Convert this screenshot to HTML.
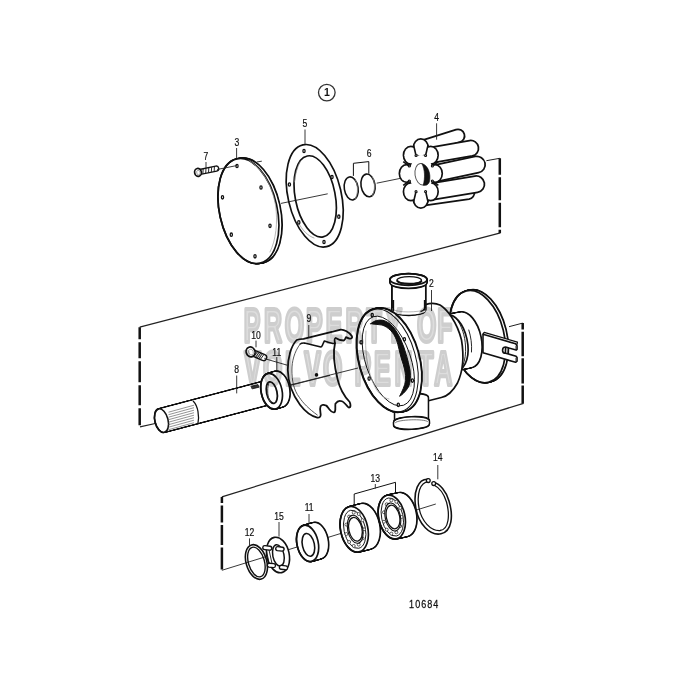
<!DOCTYPE html>
<html><head><meta charset="utf-8"><style>
html,body{margin:0;padding:0;background:#fff;}
svg{display:block;font-family:"Liberation Sans",sans-serif;}

</style></head><body>
<svg width="695" height="695" viewBox="0 0 695 695">
<rect width="695" height="695" fill="#fff"/>
<circle cx="326.8" cy="92.6" r="8.3" fill="none" stroke="#333" stroke-width="1.3"/>
<text x="326.8" y="96.4" font-size="10.5" font-weight="bold" text-anchor="middle" fill="#111">1</text>
<line x1="486.40" y1="160.70" x2="499.80" y2="158.30" stroke="#222" stroke-width="1.0" />
<line x1="499.8" y1="158.3" x2="499.8" y2="233" stroke="#111" stroke-width="2.5" stroke-dasharray="16.5 2.5 23 2.5 24.5 2.5 4"/>
<line x1="500.50" y1="232.90" x2="139.70" y2="327.20" stroke="#222" stroke-width="1.25" />
<text transform="translate(206.00,159.60) scale(0.86,1)" font-size="10" text-anchor="middle" fill="#111" stroke="#111" stroke-width="0.2">7</text>
<line x1="206.00" y1="162.00" x2="206.00" y2="169.50" stroke="#222" stroke-width="0.9" />
<line x1="256.60" y1="162.00" x2="261.80" y2="161.20" stroke="#222" stroke-width="0.9" />
<path d="M200.51,174.43 L216.71,171.05 A2.5,2.5 0 0 0 215.69,166.15 L199.49,169.54 Z" fill="#fff" stroke="#111" stroke-width="1.3650000000000002" stroke-linejoin="round" stroke-linecap="round" />
<line x1="202.90" y1="173.67" x2="203.16" y2="169.02" stroke="#111" stroke-width="0.9" />
<line x1="205.72" y1="173.09" x2="205.98" y2="168.44" stroke="#111" stroke-width="0.9" />
<line x1="208.54" y1="172.50" x2="208.79" y2="167.85" stroke="#111" stroke-width="0.9" />
<line x1="211.36" y1="171.91" x2="211.61" y2="167.26" stroke="#111" stroke-width="0.9" />
<line x1="214.17" y1="171.32" x2="214.43" y2="166.67" stroke="#111" stroke-width="0.9" />
<ellipse cx="198.00" cy="172.40" rx="3.40" ry="4.00" transform="rotate(-12 198.00 172.40)" fill="#fff" stroke="#111" stroke-width="1.6800000000000002" />
<ellipse cx="198.40" cy="172.60" rx="1.70" ry="2.40" transform="rotate(-12 198.40 172.60)" fill="none" stroke="#777" stroke-width="0.6" />
<text transform="translate(236.80,146.30) scale(0.86,1)" font-size="10" text-anchor="middle" fill="#111" stroke="#111" stroke-width="0.2">3</text>
<line x1="236.60" y1="148.00" x2="236.60" y2="158.50" stroke="#222" stroke-width="0.9" />
<g fill="#fff" stroke="#111" stroke-width="3.3600000000000003"><ellipse cx="251.60" cy="210.70" rx="28.00" ry="52.60" transform="rotate(-12.6 251.60 210.70)"/><ellipse cx="251.07" cy="210.75" rx="28.00" ry="52.60" transform="rotate(-12.6 251.07 210.75)"/><ellipse cx="250.53" cy="210.80" rx="28.00" ry="52.60" transform="rotate(-12.6 250.53 210.80)"/><ellipse cx="250.00" cy="210.85" rx="28.00" ry="52.60" transform="rotate(-12.6 250.00 210.85)"/><ellipse cx="249.47" cy="210.90" rx="28.00" ry="52.60" transform="rotate(-12.6 249.47 210.90)"/><ellipse cx="248.93" cy="210.95" rx="28.00" ry="52.60" transform="rotate(-12.6 248.93 210.95)"/><ellipse cx="248.40" cy="211.00" rx="28.00" ry="52.60" transform="rotate(-12.6 248.40 211.00)"/></g>
<g fill="#fff" stroke="none"><ellipse cx="251.60" cy="210.70" rx="28.00" ry="52.60" transform="rotate(-12.6 251.60 210.70)"/><ellipse cx="251.07" cy="210.75" rx="28.00" ry="52.60" transform="rotate(-12.6 251.07 210.75)"/><ellipse cx="250.53" cy="210.80" rx="28.00" ry="52.60" transform="rotate(-12.6 250.53 210.80)"/><ellipse cx="250.00" cy="210.85" rx="28.00" ry="52.60" transform="rotate(-12.6 250.00 210.85)"/><ellipse cx="249.47" cy="210.90" rx="28.00" ry="52.60" transform="rotate(-12.6 249.47 210.90)"/><ellipse cx="248.93" cy="210.95" rx="28.00" ry="52.60" transform="rotate(-12.6 248.93 210.95)"/><ellipse cx="248.40" cy="211.00" rx="28.00" ry="52.60" transform="rotate(-12.6 248.40 211.00)"/></g>
<ellipse cx="248.40" cy="211.00" rx="28.84" ry="53.44" transform="rotate(-12.6 248.40 211.00)" fill="none" stroke="#111" stroke-width="1.6800000000000002" />
<path d="M249,160.5 C262,168 272,185 275.5,205 C278,222 276,240 270,252" fill="none" stroke="#999" stroke-width="0.7" stroke-linejoin="round" stroke-linecap="round" />
<ellipse cx="237.00" cy="166.00" rx="1.1" ry="1.7" fill="#fff" stroke="#111" stroke-width="1.3"/>
<ellipse cx="261.00" cy="187.50" rx="1.1" ry="1.7" fill="#fff" stroke="#111" stroke-width="1.3"/>
<ellipse cx="222.50" cy="197.30" rx="1.1" ry="1.7" fill="#fff" stroke="#111" stroke-width="1.3"/>
<ellipse cx="270.00" cy="225.80" rx="1.1" ry="1.7" fill="#fff" stroke="#111" stroke-width="1.3"/>
<ellipse cx="231.30" cy="234.70" rx="1.1" ry="1.7" fill="#fff" stroke="#111" stroke-width="1.3"/>
<ellipse cx="255.00" cy="256.30" rx="1.1" ry="1.7" fill="#fff" stroke="#111" stroke-width="1.3"/>
<line x1="281.00" y1="203.40" x2="327.70" y2="193.80" stroke="#222" stroke-width="0.9" />
<line x1="217.00" y1="169.50" x2="237.00" y2="165.50" stroke="#222" stroke-width="0.9" />
<text transform="translate(305.00,127.30) scale(0.86,1)" font-size="10" text-anchor="middle" fill="#111" stroke="#111" stroke-width="0.2">5</text>
<line x1="305.00" y1="129.50" x2="305.00" y2="144.50" stroke="#222" stroke-width="0.9" />
<ellipse cx="314.70" cy="195.80" rx="26.60" ry="52.25" transform="rotate(-13.1 314.70 195.80)" fill="none" stroke="#111" stroke-width="1.6800000000000002" />
<ellipse cx="315.20" cy="196.40" rx="20.00" ry="41.20" transform="rotate(-11.1 315.20 196.40)" fill="none" stroke="#111" stroke-width="1.6800000000000002" />
<path d="M300,162 C297,168 295,175 294.5,182" fill="none" stroke="#888" stroke-width="0.7" stroke-linejoin="round" stroke-linecap="round" />
<path d="M298,222 C302,230 308,236 314,238" fill="none" stroke="#888" stroke-width="0.7" stroke-linejoin="round" stroke-linecap="round" />
<ellipse cx="304.00" cy="151.00" rx="1.1" ry="1.7" fill="#fff" stroke="#111" stroke-width="1.3"/>
<ellipse cx="332.00" cy="177.00" rx="1.1" ry="1.7" fill="#fff" stroke="#111" stroke-width="1.3"/>
<ellipse cx="289.40" cy="184.50" rx="1.1" ry="1.7" fill="#fff" stroke="#111" stroke-width="1.3"/>
<ellipse cx="338.80" cy="216.70" rx="1.1" ry="1.7" fill="#fff" stroke="#111" stroke-width="1.3"/>
<ellipse cx="298.80" cy="222.40" rx="1.1" ry="1.7" fill="#fff" stroke="#111" stroke-width="1.3"/>
<ellipse cx="324.00" cy="242.00" rx="1.1" ry="1.7" fill="#fff" stroke="#111" stroke-width="1.3"/>
<text transform="translate(369.20,157.10) scale(0.86,1)" font-size="10" text-anchor="middle" fill="#111" stroke="#111" stroke-width="0.2">6</text>
<path d="M353.4,175.5 L353.4,163.3 L368.8,161.6 L368.8,173.4" fill="none" stroke="#111" stroke-width="1.0" stroke-linejoin="round" stroke-linecap="round" />
<ellipse cx="351.20" cy="188.40" rx="6.90" ry="11.60" transform="rotate(-9 351.20 188.40)" fill="#fff" stroke="#111" stroke-width="1.5750000000000002" />
<path d="M355.5,180 C358,185 358.3,193 355.5,198.5" fill="none" stroke="#888" stroke-width="0.8" stroke-linejoin="round" stroke-linecap="round" />
<ellipse cx="368.00" cy="185.40" rx="7.00" ry="11.40" transform="rotate(-9 368.00 185.40)" fill="#fff" stroke="#111" stroke-width="1.5750000000000002" />
<path d="M372.5,177 C375,182 375.3,190 372.5,195.5" fill="none" stroke="#888" stroke-width="0.8" stroke-linejoin="round" stroke-linecap="round" />
<line x1="376.70" y1="183.20" x2="421.30" y2="174.10" stroke="#222" stroke-width="0.9" />
<text transform="translate(436.60,120.90) scale(0.86,1)" font-size="10" text-anchor="middle" fill="#111" stroke="#111" stroke-width="0.2">4</text>
<path d="M422.80,153.99 L460.00,142.19 A6.6,6.6 0 0 0 456.00,129.61 L418.80,141.41 A6.6,6.6 0 0 0 422.80,153.99 Z" fill="#fff" stroke="#111" stroke-width="1.785" stroke-linejoin="round" stroke-linecap="round" />
<path d="M421.74,205.83 L469.04,199.03 A6.6,6.6 0 0 0 467.16,185.97 L419.86,192.77 A6.6,6.6 0 0 0 421.74,205.83 Z" fill="#fff" stroke="#111" stroke-width="1.785" stroke-linejoin="round" stroke-linecap="round" />
<path d="M432.05,162.94 L472.25,155.88 A7.8,7.8 0 0 0 469.55,140.52 L429.35,147.57 A7.8,7.8 0 0 0 432.05,162.94 Z" fill="#fff" stroke="#111" stroke-width="1.785" stroke-linejoin="round" stroke-linecap="round" />
<path d="M432.06,199.93 L477.56,192.39 A8.3,8.3 0 0 0 474.84,176.01 L429.34,183.56 A8.3,8.3 0 0 0 432.06,199.93 Z" fill="#fff" stroke="#111" stroke-width="1.785" stroke-linejoin="round" stroke-linecap="round" />
<path d="M436.52,181.62 L478.62,172.72 A8.3,8.3 0 0 0 475.18,156.48 L433.08,165.38 A8.3,8.3 0 0 0 436.52,181.62 Z" fill="#fff" stroke="#111" stroke-width="1.785" stroke-linejoin="round" stroke-linecap="round" />
<g fill="#fff" stroke="#111" stroke-width="3.4"><ellipse cx="420.80" cy="147.70" rx="6.6" ry="8.0"/><ellipse cx="430.70" cy="155.26" rx="6.6" ry="8.0"/><ellipse cx="434.80" cy="173.50" rx="6.6" ry="8.0"/><ellipse cx="430.70" cy="191.74" rx="6.6" ry="8.0"/><ellipse cx="420.80" cy="199.30" rx="6.6" ry="8.0"/><ellipse cx="410.90" cy="191.74" rx="6.6" ry="8.0"/><ellipse cx="406.80" cy="173.50" rx="6.6" ry="8.0"/><ellipse cx="410.90" cy="155.26" rx="6.6" ry="8.0"/><ellipse cx="421.30" cy="174.00" rx="11.5" ry="19"/></g>
<g fill="#fff" stroke="none"><ellipse cx="420.80" cy="147.70" rx="6.6" ry="8.0"/><ellipse cx="430.70" cy="155.26" rx="6.6" ry="8.0"/><ellipse cx="434.80" cy="173.50" rx="6.6" ry="8.0"/><ellipse cx="430.70" cy="191.74" rx="6.6" ry="8.0"/><ellipse cx="420.80" cy="199.30" rx="6.6" ry="8.0"/><ellipse cx="410.90" cy="191.74" rx="6.6" ry="8.0"/><ellipse cx="406.80" cy="173.50" rx="6.6" ry="8.0"/><ellipse cx="410.90" cy="155.26" rx="6.6" ry="8.0"/><ellipse cx="421.30" cy="174.00" rx="11.5" ry="19"/></g>
<line x1="428.07" y1="144.86" x2="425.58" y2="155.48" stroke="#111" stroke-width="1.6" />
<circle cx="425.58" cy="155.48" r="1.0" fill="#fff" stroke="#111" stroke-width="1.1"/>
<line x1="438.35" y1="161.64" x2="432.35" y2="166.04" stroke="#111" stroke-width="1.6" />
<circle cx="432.35" cy="166.04" r="1.0" fill="#fff" stroke="#111" stroke-width="1.1"/>
<line x1="438.35" y1="185.36" x2="432.35" y2="180.96" stroke="#111" stroke-width="1.6" />
<circle cx="432.35" cy="180.96" r="1.0" fill="#fff" stroke="#111" stroke-width="1.1"/>
<line x1="428.07" y1="202.14" x2="425.58" y2="191.52" stroke="#111" stroke-width="1.6" />
<circle cx="425.58" cy="191.52" r="1.0" fill="#fff" stroke="#111" stroke-width="1.1"/>
<line x1="413.53" y1="202.14" x2="416.02" y2="191.52" stroke="#111" stroke-width="1.6" />
<circle cx="416.02" cy="191.52" r="1.0" fill="#fff" stroke="#111" stroke-width="1.1"/>
<line x1="403.25" y1="185.36" x2="409.25" y2="180.96" stroke="#111" stroke-width="1.6" />
<circle cx="409.25" cy="180.96" r="1.0" fill="#fff" stroke="#111" stroke-width="1.1"/>
<line x1="403.25" y1="161.64" x2="409.25" y2="166.04" stroke="#111" stroke-width="1.6" />
<circle cx="409.25" cy="166.04" r="1.0" fill="#fff" stroke="#111" stroke-width="1.1"/>
<line x1="413.53" y1="144.86" x2="416.02" y2="155.48" stroke="#111" stroke-width="1.6" />
<circle cx="416.02" cy="155.48" r="1.0" fill="#fff" stroke="#111" stroke-width="1.1"/>
<ellipse cx="421.80" cy="174.30" rx="6.80" ry="10.80" transform="rotate(-8 421.80 174.30)" fill="#fff" stroke="#555" stroke-width="1.0" />
<path d="M422,163.8 C428.5,165.5 431,174 429.5,181.5 C428.5,184.8 426,185.8 423.2,185.2 C425.2,178 425,170 422,163.8 Z" fill="#111" stroke="#111" stroke-width="0.6" stroke-linejoin="round" stroke-linecap="round" />
<line x1="436.60" y1="123.30" x2="436.60" y2="139.70" stroke="#222" stroke-width="0.9" />
<line x1="139.7" y1="327.2" x2="139.7" y2="427" stroke="#111" stroke-width="2.5" stroke-dasharray="12 3 16 3 21 3 20 3 17"/>
<line x1="140.00" y1="426.90" x2="156.30" y2="423.30" stroke="#222" stroke-width="1.1" />
<line x1="509.00" y1="326.70" x2="522.70" y2="323.10" stroke="#222" stroke-width="1.0" />
<line x1="522.7" y1="323.1" x2="522.7" y2="403.5" stroke="#111" stroke-width="2.5" stroke-dasharray="6.5 2.1 24.5 2.1 25.2 2.1 20"/>
<line x1="523.50" y1="403.30" x2="221.90" y2="496.90" stroke="#222" stroke-width="1.25" />
<text transform="translate(236.70,372.60) scale(0.86,1)" font-size="10" text-anchor="middle" fill="#111" stroke="#111" stroke-width="0.2">8</text>
<g fill="#fff" stroke="#111" stroke-width="3.1500000000000004"><ellipse cx="268.00" cy="392.50" rx="5.80" ry="11.30" transform="rotate(-14 268.00 392.50)"/><ellipse cx="267.32" cy="392.68" rx="5.80" ry="11.30" transform="rotate(-14 267.32 392.68)"/><ellipse cx="266.64" cy="392.86" rx="5.80" ry="11.30" transform="rotate(-14 266.64 392.86)"/><ellipse cx="265.96" cy="393.04" rx="5.80" ry="11.30" transform="rotate(-14 265.96 393.04)"/><ellipse cx="265.29" cy="393.22" rx="5.80" ry="11.30" transform="rotate(-14 265.29 393.22)"/><ellipse cx="264.61" cy="393.39" rx="5.80" ry="11.30" transform="rotate(-14 264.61 393.39)"/><ellipse cx="263.93" cy="393.57" rx="5.80" ry="11.30" transform="rotate(-14 263.93 393.57)"/><ellipse cx="263.25" cy="393.75" rx="5.80" ry="11.30" transform="rotate(-14 263.25 393.75)"/><ellipse cx="262.57" cy="393.93" rx="5.80" ry="11.30" transform="rotate(-14 262.57 393.93)"/><ellipse cx="261.89" cy="394.11" rx="5.80" ry="11.30" transform="rotate(-14 261.89 394.11)"/><ellipse cx="261.22" cy="394.29" rx="5.80" ry="11.30" transform="rotate(-14 261.22 394.29)"/><ellipse cx="260.54" cy="394.47" rx="5.80" ry="11.30" transform="rotate(-14 260.54 394.47)"/><ellipse cx="259.86" cy="394.65" rx="5.80" ry="11.30" transform="rotate(-14 259.86 394.65)"/><ellipse cx="259.18" cy="394.83" rx="5.80" ry="11.30" transform="rotate(-14 259.18 394.83)"/><ellipse cx="258.50" cy="395.01" rx="5.80" ry="11.30" transform="rotate(-14 258.50 395.01)"/><ellipse cx="257.82" cy="395.18" rx="5.80" ry="11.30" transform="rotate(-14 257.82 395.18)"/><ellipse cx="257.15" cy="395.36" rx="5.80" ry="11.30" transform="rotate(-14 257.15 395.36)"/><ellipse cx="256.47" cy="395.54" rx="5.80" ry="11.30" transform="rotate(-14 256.47 395.54)"/><ellipse cx="255.79" cy="395.72" rx="5.80" ry="11.30" transform="rotate(-14 255.79 395.72)"/><ellipse cx="255.11" cy="395.90" rx="5.80" ry="11.30" transform="rotate(-14 255.11 395.90)"/><ellipse cx="254.43" cy="396.08" rx="5.80" ry="11.30" transform="rotate(-14 254.43 396.08)"/><ellipse cx="253.75" cy="396.26" rx="5.80" ry="11.30" transform="rotate(-14 253.75 396.26)"/><ellipse cx="253.08" cy="396.44" rx="5.80" ry="11.30" transform="rotate(-14 253.08 396.44)"/><ellipse cx="252.40" cy="396.62" rx="5.80" ry="11.30" transform="rotate(-14 252.40 396.62)"/><ellipse cx="251.72" cy="396.80" rx="5.80" ry="11.30" transform="rotate(-14 251.72 396.80)"/><ellipse cx="251.04" cy="396.97" rx="5.80" ry="11.30" transform="rotate(-14 251.04 396.97)"/><ellipse cx="250.36" cy="397.15" rx="5.80" ry="11.30" transform="rotate(-14 250.36 397.15)"/><ellipse cx="249.68" cy="397.33" rx="5.80" ry="11.30" transform="rotate(-14 249.68 397.33)"/><ellipse cx="249.01" cy="397.51" rx="5.80" ry="11.30" transform="rotate(-14 249.01 397.51)"/><ellipse cx="248.33" cy="397.69" rx="5.80" ry="11.30" transform="rotate(-14 248.33 397.69)"/><ellipse cx="247.65" cy="397.87" rx="5.80" ry="11.30" transform="rotate(-14 247.65 397.87)"/><ellipse cx="246.97" cy="398.05" rx="5.80" ry="11.30" transform="rotate(-14 246.97 398.05)"/><ellipse cx="246.29" cy="398.23" rx="5.80" ry="11.30" transform="rotate(-14 246.29 398.23)"/><ellipse cx="245.61" cy="398.41" rx="5.80" ry="11.30" transform="rotate(-14 245.61 398.41)"/><ellipse cx="244.94" cy="398.59" rx="5.80" ry="11.30" transform="rotate(-14 244.94 398.59)"/><ellipse cx="244.26" cy="398.76" rx="5.80" ry="11.30" transform="rotate(-14 244.26 398.76)"/><ellipse cx="243.58" cy="398.94" rx="5.80" ry="11.30" transform="rotate(-14 243.58 398.94)"/><ellipse cx="242.90" cy="399.12" rx="5.80" ry="11.30" transform="rotate(-14 242.90 399.12)"/><ellipse cx="242.22" cy="399.30" rx="5.80" ry="11.30" transform="rotate(-14 242.22 399.30)"/><ellipse cx="241.54" cy="399.48" rx="5.80" ry="11.30" transform="rotate(-14 241.54 399.48)"/><ellipse cx="240.87" cy="399.66" rx="5.80" ry="11.30" transform="rotate(-14 240.87 399.66)"/><ellipse cx="240.19" cy="399.84" rx="5.80" ry="11.30" transform="rotate(-14 240.19 399.84)"/><ellipse cx="239.51" cy="400.02" rx="5.80" ry="11.30" transform="rotate(-14 239.51 400.02)"/><ellipse cx="238.83" cy="400.20" rx="5.80" ry="11.30" transform="rotate(-14 238.83 400.20)"/><ellipse cx="238.15" cy="400.38" rx="5.80" ry="11.30" transform="rotate(-14 238.15 400.38)"/><ellipse cx="237.47" cy="400.55" rx="5.80" ry="11.30" transform="rotate(-14 237.47 400.55)"/><ellipse cx="236.80" cy="400.73" rx="5.80" ry="11.30" transform="rotate(-14 236.80 400.73)"/><ellipse cx="236.12" cy="400.91" rx="5.80" ry="11.30" transform="rotate(-14 236.12 400.91)"/><ellipse cx="235.44" cy="401.09" rx="5.80" ry="11.30" transform="rotate(-14 235.44 401.09)"/><ellipse cx="234.76" cy="401.27" rx="5.80" ry="11.30" transform="rotate(-14 234.76 401.27)"/><ellipse cx="234.08" cy="401.45" rx="5.80" ry="11.30" transform="rotate(-14 234.08 401.45)"/><ellipse cx="233.40" cy="401.63" rx="5.80" ry="11.30" transform="rotate(-14 233.40 401.63)"/><ellipse cx="232.73" cy="401.81" rx="5.80" ry="11.30" transform="rotate(-14 232.73 401.81)"/><ellipse cx="232.05" cy="401.99" rx="5.80" ry="11.30" transform="rotate(-14 232.05 401.99)"/><ellipse cx="231.37" cy="402.16" rx="5.80" ry="11.30" transform="rotate(-14 231.37 402.16)"/><ellipse cx="230.69" cy="402.34" rx="5.80" ry="11.30" transform="rotate(-14 230.69 402.34)"/><ellipse cx="230.01" cy="402.52" rx="5.80" ry="11.30" transform="rotate(-14 230.01 402.52)"/><ellipse cx="229.33" cy="402.70" rx="5.80" ry="11.30" transform="rotate(-14 229.33 402.70)"/><ellipse cx="228.66" cy="402.88" rx="5.80" ry="11.30" transform="rotate(-14 228.66 402.88)"/><ellipse cx="227.98" cy="403.06" rx="5.80" ry="11.30" transform="rotate(-14 227.98 403.06)"/><ellipse cx="227.30" cy="403.24" rx="5.80" ry="11.30" transform="rotate(-14 227.30 403.24)"/><ellipse cx="226.62" cy="403.42" rx="5.80" ry="11.30" transform="rotate(-14 226.62 403.42)"/><ellipse cx="225.94" cy="403.60" rx="5.80" ry="11.30" transform="rotate(-14 225.94 403.60)"/><ellipse cx="225.26" cy="403.78" rx="5.80" ry="11.30" transform="rotate(-14 225.26 403.78)"/><ellipse cx="224.59" cy="403.95" rx="5.80" ry="11.30" transform="rotate(-14 224.59 403.95)"/><ellipse cx="223.91" cy="404.13" rx="5.80" ry="11.30" transform="rotate(-14 223.91 404.13)"/><ellipse cx="223.23" cy="404.31" rx="5.80" ry="11.30" transform="rotate(-14 223.23 404.31)"/><ellipse cx="222.55" cy="404.49" rx="5.80" ry="11.30" transform="rotate(-14 222.55 404.49)"/><ellipse cx="221.87" cy="404.67" rx="5.80" ry="11.30" transform="rotate(-14 221.87 404.67)"/><ellipse cx="221.19" cy="404.85" rx="5.80" ry="11.30" transform="rotate(-14 221.19 404.85)"/><ellipse cx="220.52" cy="405.03" rx="5.80" ry="11.30" transform="rotate(-14 220.52 405.03)"/><ellipse cx="219.84" cy="405.21" rx="5.80" ry="11.30" transform="rotate(-14 219.84 405.21)"/><ellipse cx="219.16" cy="405.39" rx="5.80" ry="11.30" transform="rotate(-14 219.16 405.39)"/><ellipse cx="218.48" cy="405.57" rx="5.80" ry="11.30" transform="rotate(-14 218.48 405.57)"/><ellipse cx="217.80" cy="405.74" rx="5.80" ry="11.30" transform="rotate(-14 217.80 405.74)"/><ellipse cx="217.12" cy="405.92" rx="5.80" ry="11.30" transform="rotate(-14 217.12 405.92)"/><ellipse cx="216.45" cy="406.10" rx="5.80" ry="11.30" transform="rotate(-14 216.45 406.10)"/><ellipse cx="215.77" cy="406.28" rx="5.80" ry="11.30" transform="rotate(-14 215.77 406.28)"/><ellipse cx="215.09" cy="406.46" rx="5.80" ry="11.30" transform="rotate(-14 215.09 406.46)"/><ellipse cx="214.41" cy="406.64" rx="5.80" ry="11.30" transform="rotate(-14 214.41 406.64)"/><ellipse cx="213.73" cy="406.82" rx="5.80" ry="11.30" transform="rotate(-14 213.73 406.82)"/><ellipse cx="213.05" cy="407.00" rx="5.80" ry="11.30" transform="rotate(-14 213.05 407.00)"/><ellipse cx="212.38" cy="407.18" rx="5.80" ry="11.30" transform="rotate(-14 212.38 407.18)"/><ellipse cx="211.70" cy="407.36" rx="5.80" ry="11.30" transform="rotate(-14 211.70 407.36)"/><ellipse cx="211.02" cy="407.53" rx="5.80" ry="11.30" transform="rotate(-14 211.02 407.53)"/><ellipse cx="210.34" cy="407.71" rx="5.80" ry="11.30" transform="rotate(-14 210.34 407.71)"/><ellipse cx="209.66" cy="407.89" rx="5.80" ry="11.30" transform="rotate(-14 209.66 407.89)"/><ellipse cx="208.98" cy="408.07" rx="5.80" ry="11.30" transform="rotate(-14 208.98 408.07)"/><ellipse cx="208.31" cy="408.25" rx="5.80" ry="11.30" transform="rotate(-14 208.31 408.25)"/><ellipse cx="207.63" cy="408.43" rx="5.80" ry="11.30" transform="rotate(-14 207.63 408.43)"/><ellipse cx="206.95" cy="408.61" rx="5.80" ry="11.30" transform="rotate(-14 206.95 408.61)"/><ellipse cx="206.27" cy="408.79" rx="5.80" ry="11.30" transform="rotate(-14 206.27 408.79)"/><ellipse cx="205.59" cy="408.97" rx="5.80" ry="11.30" transform="rotate(-14 205.59 408.97)"/><ellipse cx="204.91" cy="409.15" rx="5.80" ry="11.30" transform="rotate(-14 204.91 409.15)"/><ellipse cx="204.24" cy="409.32" rx="5.80" ry="11.30" transform="rotate(-14 204.24 409.32)"/><ellipse cx="203.56" cy="409.50" rx="5.80" ry="11.30" transform="rotate(-14 203.56 409.50)"/><ellipse cx="202.88" cy="409.68" rx="5.80" ry="11.30" transform="rotate(-14 202.88 409.68)"/><ellipse cx="202.20" cy="409.86" rx="5.80" ry="11.30" transform="rotate(-14 202.20 409.86)"/><ellipse cx="201.52" cy="410.04" rx="5.80" ry="11.30" transform="rotate(-14 201.52 410.04)"/><ellipse cx="200.84" cy="410.22" rx="5.80" ry="11.30" transform="rotate(-14 200.84 410.22)"/><ellipse cx="200.17" cy="410.40" rx="5.80" ry="11.30" transform="rotate(-14 200.17 410.40)"/><ellipse cx="199.49" cy="410.58" rx="5.80" ry="11.30" transform="rotate(-14 199.49 410.58)"/><ellipse cx="198.81" cy="410.76" rx="5.80" ry="11.30" transform="rotate(-14 198.81 410.76)"/><ellipse cx="198.13" cy="410.94" rx="5.80" ry="11.30" transform="rotate(-14 198.13 410.94)"/><ellipse cx="197.45" cy="411.11" rx="5.80" ry="11.30" transform="rotate(-14 197.45 411.11)"/><ellipse cx="196.77" cy="411.29" rx="5.80" ry="11.30" transform="rotate(-14 196.77 411.29)"/><ellipse cx="196.10" cy="411.47" rx="5.80" ry="11.30" transform="rotate(-14 196.10 411.47)"/><ellipse cx="195.42" cy="411.65" rx="5.80" ry="11.30" transform="rotate(-14 195.42 411.65)"/><ellipse cx="194.74" cy="411.83" rx="5.80" ry="11.30" transform="rotate(-14 194.74 411.83)"/><ellipse cx="194.06" cy="412.01" rx="5.80" ry="11.30" transform="rotate(-14 194.06 412.01)"/><ellipse cx="193.38" cy="412.19" rx="5.80" ry="11.30" transform="rotate(-14 193.38 412.19)"/><ellipse cx="192.70" cy="412.37" rx="5.80" ry="11.30" transform="rotate(-14 192.70 412.37)"/><ellipse cx="192.03" cy="412.55" rx="5.80" ry="11.30" transform="rotate(-14 192.03 412.55)"/><ellipse cx="191.35" cy="412.72" rx="5.80" ry="11.30" transform="rotate(-14 191.35 412.72)"/><ellipse cx="190.67" cy="412.90" rx="5.80" ry="11.30" transform="rotate(-14 190.67 412.90)"/><ellipse cx="189.99" cy="413.08" rx="5.80" ry="11.30" transform="rotate(-14 189.99 413.08)"/><ellipse cx="189.31" cy="413.26" rx="5.80" ry="11.30" transform="rotate(-14 189.31 413.26)"/><ellipse cx="188.63" cy="413.44" rx="5.80" ry="11.30" transform="rotate(-14 188.63 413.44)"/><ellipse cx="187.96" cy="413.62" rx="5.80" ry="11.30" transform="rotate(-14 187.96 413.62)"/><ellipse cx="187.28" cy="413.80" rx="5.80" ry="11.30" transform="rotate(-14 187.28 413.80)"/><ellipse cx="186.60" cy="413.98" rx="5.80" ry="11.30" transform="rotate(-14 186.60 413.98)"/><ellipse cx="185.92" cy="414.16" rx="5.80" ry="11.30" transform="rotate(-14 185.92 414.16)"/><ellipse cx="185.24" cy="414.34" rx="5.80" ry="11.30" transform="rotate(-14 185.24 414.34)"/><ellipse cx="184.56" cy="414.51" rx="5.80" ry="11.30" transform="rotate(-14 184.56 414.51)"/><ellipse cx="183.89" cy="414.69" rx="5.80" ry="11.30" transform="rotate(-14 183.89 414.69)"/><ellipse cx="183.21" cy="414.87" rx="5.80" ry="11.30" transform="rotate(-14 183.21 414.87)"/><ellipse cx="182.53" cy="415.05" rx="5.80" ry="11.30" transform="rotate(-14 182.53 415.05)"/><ellipse cx="181.85" cy="415.23" rx="5.80" ry="11.30" transform="rotate(-14 181.85 415.23)"/><ellipse cx="181.17" cy="415.41" rx="5.80" ry="11.30" transform="rotate(-14 181.17 415.41)"/><ellipse cx="180.49" cy="415.59" rx="5.80" ry="11.30" transform="rotate(-14 180.49 415.59)"/><ellipse cx="179.82" cy="415.77" rx="5.80" ry="11.30" transform="rotate(-14 179.82 415.77)"/><ellipse cx="179.14" cy="415.95" rx="5.80" ry="11.30" transform="rotate(-14 179.14 415.95)"/><ellipse cx="178.46" cy="416.13" rx="5.80" ry="11.30" transform="rotate(-14 178.46 416.13)"/><ellipse cx="177.78" cy="416.30" rx="5.80" ry="11.30" transform="rotate(-14 177.78 416.30)"/><ellipse cx="177.10" cy="416.48" rx="5.80" ry="11.30" transform="rotate(-14 177.10 416.48)"/><ellipse cx="176.42" cy="416.66" rx="5.80" ry="11.30" transform="rotate(-14 176.42 416.66)"/><ellipse cx="175.75" cy="416.84" rx="5.80" ry="11.30" transform="rotate(-14 175.75 416.84)"/><ellipse cx="175.07" cy="417.02" rx="5.80" ry="11.30" transform="rotate(-14 175.07 417.02)"/><ellipse cx="174.39" cy="417.20" rx="5.80" ry="11.30" transform="rotate(-14 174.39 417.20)"/><ellipse cx="173.71" cy="417.38" rx="5.80" ry="11.30" transform="rotate(-14 173.71 417.38)"/><ellipse cx="173.03" cy="417.56" rx="5.80" ry="11.30" transform="rotate(-14 173.03 417.56)"/><ellipse cx="172.35" cy="417.74" rx="5.80" ry="11.30" transform="rotate(-14 172.35 417.74)"/><ellipse cx="171.68" cy="417.92" rx="5.80" ry="11.30" transform="rotate(-14 171.68 417.92)"/><ellipse cx="171.00" cy="418.09" rx="5.80" ry="11.30" transform="rotate(-14 171.00 418.09)"/><ellipse cx="170.32" cy="418.27" rx="5.80" ry="11.30" transform="rotate(-14 170.32 418.27)"/><ellipse cx="169.64" cy="418.45" rx="5.80" ry="11.30" transform="rotate(-14 169.64 418.45)"/><ellipse cx="168.96" cy="418.63" rx="5.80" ry="11.30" transform="rotate(-14 168.96 418.63)"/><ellipse cx="168.28" cy="418.81" rx="5.80" ry="11.30" transform="rotate(-14 168.28 418.81)"/><ellipse cx="167.61" cy="418.99" rx="5.80" ry="11.30" transform="rotate(-14 167.61 418.99)"/><ellipse cx="166.93" cy="419.17" rx="5.80" ry="11.30" transform="rotate(-14 166.93 419.17)"/><ellipse cx="166.25" cy="419.35" rx="5.80" ry="11.30" transform="rotate(-14 166.25 419.35)"/><ellipse cx="165.57" cy="419.53" rx="5.80" ry="11.30" transform="rotate(-14 165.57 419.53)"/><ellipse cx="164.89" cy="419.71" rx="5.80" ry="11.30" transform="rotate(-14 164.89 419.71)"/><ellipse cx="164.21" cy="419.88" rx="5.80" ry="11.30" transform="rotate(-14 164.21 419.88)"/><ellipse cx="163.54" cy="420.06" rx="5.80" ry="11.30" transform="rotate(-14 163.54 420.06)"/><ellipse cx="162.86" cy="420.24" rx="5.80" ry="11.30" transform="rotate(-14 162.86 420.24)"/><ellipse cx="162.18" cy="420.42" rx="5.80" ry="11.30" transform="rotate(-14 162.18 420.42)"/><ellipse cx="161.50" cy="420.60" rx="5.80" ry="11.30" transform="rotate(-14 161.50 420.60)"/></g>
<g fill="#fff" stroke="none"><ellipse cx="268.00" cy="392.50" rx="5.80" ry="11.30" transform="rotate(-14 268.00 392.50)"/><ellipse cx="267.32" cy="392.68" rx="5.80" ry="11.30" transform="rotate(-14 267.32 392.68)"/><ellipse cx="266.64" cy="392.86" rx="5.80" ry="11.30" transform="rotate(-14 266.64 392.86)"/><ellipse cx="265.96" cy="393.04" rx="5.80" ry="11.30" transform="rotate(-14 265.96 393.04)"/><ellipse cx="265.29" cy="393.22" rx="5.80" ry="11.30" transform="rotate(-14 265.29 393.22)"/><ellipse cx="264.61" cy="393.39" rx="5.80" ry="11.30" transform="rotate(-14 264.61 393.39)"/><ellipse cx="263.93" cy="393.57" rx="5.80" ry="11.30" transform="rotate(-14 263.93 393.57)"/><ellipse cx="263.25" cy="393.75" rx="5.80" ry="11.30" transform="rotate(-14 263.25 393.75)"/><ellipse cx="262.57" cy="393.93" rx="5.80" ry="11.30" transform="rotate(-14 262.57 393.93)"/><ellipse cx="261.89" cy="394.11" rx="5.80" ry="11.30" transform="rotate(-14 261.89 394.11)"/><ellipse cx="261.22" cy="394.29" rx="5.80" ry="11.30" transform="rotate(-14 261.22 394.29)"/><ellipse cx="260.54" cy="394.47" rx="5.80" ry="11.30" transform="rotate(-14 260.54 394.47)"/><ellipse cx="259.86" cy="394.65" rx="5.80" ry="11.30" transform="rotate(-14 259.86 394.65)"/><ellipse cx="259.18" cy="394.83" rx="5.80" ry="11.30" transform="rotate(-14 259.18 394.83)"/><ellipse cx="258.50" cy="395.01" rx="5.80" ry="11.30" transform="rotate(-14 258.50 395.01)"/><ellipse cx="257.82" cy="395.18" rx="5.80" ry="11.30" transform="rotate(-14 257.82 395.18)"/><ellipse cx="257.15" cy="395.36" rx="5.80" ry="11.30" transform="rotate(-14 257.15 395.36)"/><ellipse cx="256.47" cy="395.54" rx="5.80" ry="11.30" transform="rotate(-14 256.47 395.54)"/><ellipse cx="255.79" cy="395.72" rx="5.80" ry="11.30" transform="rotate(-14 255.79 395.72)"/><ellipse cx="255.11" cy="395.90" rx="5.80" ry="11.30" transform="rotate(-14 255.11 395.90)"/><ellipse cx="254.43" cy="396.08" rx="5.80" ry="11.30" transform="rotate(-14 254.43 396.08)"/><ellipse cx="253.75" cy="396.26" rx="5.80" ry="11.30" transform="rotate(-14 253.75 396.26)"/><ellipse cx="253.08" cy="396.44" rx="5.80" ry="11.30" transform="rotate(-14 253.08 396.44)"/><ellipse cx="252.40" cy="396.62" rx="5.80" ry="11.30" transform="rotate(-14 252.40 396.62)"/><ellipse cx="251.72" cy="396.80" rx="5.80" ry="11.30" transform="rotate(-14 251.72 396.80)"/><ellipse cx="251.04" cy="396.97" rx="5.80" ry="11.30" transform="rotate(-14 251.04 396.97)"/><ellipse cx="250.36" cy="397.15" rx="5.80" ry="11.30" transform="rotate(-14 250.36 397.15)"/><ellipse cx="249.68" cy="397.33" rx="5.80" ry="11.30" transform="rotate(-14 249.68 397.33)"/><ellipse cx="249.01" cy="397.51" rx="5.80" ry="11.30" transform="rotate(-14 249.01 397.51)"/><ellipse cx="248.33" cy="397.69" rx="5.80" ry="11.30" transform="rotate(-14 248.33 397.69)"/><ellipse cx="247.65" cy="397.87" rx="5.80" ry="11.30" transform="rotate(-14 247.65 397.87)"/><ellipse cx="246.97" cy="398.05" rx="5.80" ry="11.30" transform="rotate(-14 246.97 398.05)"/><ellipse cx="246.29" cy="398.23" rx="5.80" ry="11.30" transform="rotate(-14 246.29 398.23)"/><ellipse cx="245.61" cy="398.41" rx="5.80" ry="11.30" transform="rotate(-14 245.61 398.41)"/><ellipse cx="244.94" cy="398.59" rx="5.80" ry="11.30" transform="rotate(-14 244.94 398.59)"/><ellipse cx="244.26" cy="398.76" rx="5.80" ry="11.30" transform="rotate(-14 244.26 398.76)"/><ellipse cx="243.58" cy="398.94" rx="5.80" ry="11.30" transform="rotate(-14 243.58 398.94)"/><ellipse cx="242.90" cy="399.12" rx="5.80" ry="11.30" transform="rotate(-14 242.90 399.12)"/><ellipse cx="242.22" cy="399.30" rx="5.80" ry="11.30" transform="rotate(-14 242.22 399.30)"/><ellipse cx="241.54" cy="399.48" rx="5.80" ry="11.30" transform="rotate(-14 241.54 399.48)"/><ellipse cx="240.87" cy="399.66" rx="5.80" ry="11.30" transform="rotate(-14 240.87 399.66)"/><ellipse cx="240.19" cy="399.84" rx="5.80" ry="11.30" transform="rotate(-14 240.19 399.84)"/><ellipse cx="239.51" cy="400.02" rx="5.80" ry="11.30" transform="rotate(-14 239.51 400.02)"/><ellipse cx="238.83" cy="400.20" rx="5.80" ry="11.30" transform="rotate(-14 238.83 400.20)"/><ellipse cx="238.15" cy="400.38" rx="5.80" ry="11.30" transform="rotate(-14 238.15 400.38)"/><ellipse cx="237.47" cy="400.55" rx="5.80" ry="11.30" transform="rotate(-14 237.47 400.55)"/><ellipse cx="236.80" cy="400.73" rx="5.80" ry="11.30" transform="rotate(-14 236.80 400.73)"/><ellipse cx="236.12" cy="400.91" rx="5.80" ry="11.30" transform="rotate(-14 236.12 400.91)"/><ellipse cx="235.44" cy="401.09" rx="5.80" ry="11.30" transform="rotate(-14 235.44 401.09)"/><ellipse cx="234.76" cy="401.27" rx="5.80" ry="11.30" transform="rotate(-14 234.76 401.27)"/><ellipse cx="234.08" cy="401.45" rx="5.80" ry="11.30" transform="rotate(-14 234.08 401.45)"/><ellipse cx="233.40" cy="401.63" rx="5.80" ry="11.30" transform="rotate(-14 233.40 401.63)"/><ellipse cx="232.73" cy="401.81" rx="5.80" ry="11.30" transform="rotate(-14 232.73 401.81)"/><ellipse cx="232.05" cy="401.99" rx="5.80" ry="11.30" transform="rotate(-14 232.05 401.99)"/><ellipse cx="231.37" cy="402.16" rx="5.80" ry="11.30" transform="rotate(-14 231.37 402.16)"/><ellipse cx="230.69" cy="402.34" rx="5.80" ry="11.30" transform="rotate(-14 230.69 402.34)"/><ellipse cx="230.01" cy="402.52" rx="5.80" ry="11.30" transform="rotate(-14 230.01 402.52)"/><ellipse cx="229.33" cy="402.70" rx="5.80" ry="11.30" transform="rotate(-14 229.33 402.70)"/><ellipse cx="228.66" cy="402.88" rx="5.80" ry="11.30" transform="rotate(-14 228.66 402.88)"/><ellipse cx="227.98" cy="403.06" rx="5.80" ry="11.30" transform="rotate(-14 227.98 403.06)"/><ellipse cx="227.30" cy="403.24" rx="5.80" ry="11.30" transform="rotate(-14 227.30 403.24)"/><ellipse cx="226.62" cy="403.42" rx="5.80" ry="11.30" transform="rotate(-14 226.62 403.42)"/><ellipse cx="225.94" cy="403.60" rx="5.80" ry="11.30" transform="rotate(-14 225.94 403.60)"/><ellipse cx="225.26" cy="403.78" rx="5.80" ry="11.30" transform="rotate(-14 225.26 403.78)"/><ellipse cx="224.59" cy="403.95" rx="5.80" ry="11.30" transform="rotate(-14 224.59 403.95)"/><ellipse cx="223.91" cy="404.13" rx="5.80" ry="11.30" transform="rotate(-14 223.91 404.13)"/><ellipse cx="223.23" cy="404.31" rx="5.80" ry="11.30" transform="rotate(-14 223.23 404.31)"/><ellipse cx="222.55" cy="404.49" rx="5.80" ry="11.30" transform="rotate(-14 222.55 404.49)"/><ellipse cx="221.87" cy="404.67" rx="5.80" ry="11.30" transform="rotate(-14 221.87 404.67)"/><ellipse cx="221.19" cy="404.85" rx="5.80" ry="11.30" transform="rotate(-14 221.19 404.85)"/><ellipse cx="220.52" cy="405.03" rx="5.80" ry="11.30" transform="rotate(-14 220.52 405.03)"/><ellipse cx="219.84" cy="405.21" rx="5.80" ry="11.30" transform="rotate(-14 219.84 405.21)"/><ellipse cx="219.16" cy="405.39" rx="5.80" ry="11.30" transform="rotate(-14 219.16 405.39)"/><ellipse cx="218.48" cy="405.57" rx="5.80" ry="11.30" transform="rotate(-14 218.48 405.57)"/><ellipse cx="217.80" cy="405.74" rx="5.80" ry="11.30" transform="rotate(-14 217.80 405.74)"/><ellipse cx="217.12" cy="405.92" rx="5.80" ry="11.30" transform="rotate(-14 217.12 405.92)"/><ellipse cx="216.45" cy="406.10" rx="5.80" ry="11.30" transform="rotate(-14 216.45 406.10)"/><ellipse cx="215.77" cy="406.28" rx="5.80" ry="11.30" transform="rotate(-14 215.77 406.28)"/><ellipse cx="215.09" cy="406.46" rx="5.80" ry="11.30" transform="rotate(-14 215.09 406.46)"/><ellipse cx="214.41" cy="406.64" rx="5.80" ry="11.30" transform="rotate(-14 214.41 406.64)"/><ellipse cx="213.73" cy="406.82" rx="5.80" ry="11.30" transform="rotate(-14 213.73 406.82)"/><ellipse cx="213.05" cy="407.00" rx="5.80" ry="11.30" transform="rotate(-14 213.05 407.00)"/><ellipse cx="212.38" cy="407.18" rx="5.80" ry="11.30" transform="rotate(-14 212.38 407.18)"/><ellipse cx="211.70" cy="407.36" rx="5.80" ry="11.30" transform="rotate(-14 211.70 407.36)"/><ellipse cx="211.02" cy="407.53" rx="5.80" ry="11.30" transform="rotate(-14 211.02 407.53)"/><ellipse cx="210.34" cy="407.71" rx="5.80" ry="11.30" transform="rotate(-14 210.34 407.71)"/><ellipse cx="209.66" cy="407.89" rx="5.80" ry="11.30" transform="rotate(-14 209.66 407.89)"/><ellipse cx="208.98" cy="408.07" rx="5.80" ry="11.30" transform="rotate(-14 208.98 408.07)"/><ellipse cx="208.31" cy="408.25" rx="5.80" ry="11.30" transform="rotate(-14 208.31 408.25)"/><ellipse cx="207.63" cy="408.43" rx="5.80" ry="11.30" transform="rotate(-14 207.63 408.43)"/><ellipse cx="206.95" cy="408.61" rx="5.80" ry="11.30" transform="rotate(-14 206.95 408.61)"/><ellipse cx="206.27" cy="408.79" rx="5.80" ry="11.30" transform="rotate(-14 206.27 408.79)"/><ellipse cx="205.59" cy="408.97" rx="5.80" ry="11.30" transform="rotate(-14 205.59 408.97)"/><ellipse cx="204.91" cy="409.15" rx="5.80" ry="11.30" transform="rotate(-14 204.91 409.15)"/><ellipse cx="204.24" cy="409.32" rx="5.80" ry="11.30" transform="rotate(-14 204.24 409.32)"/><ellipse cx="203.56" cy="409.50" rx="5.80" ry="11.30" transform="rotate(-14 203.56 409.50)"/><ellipse cx="202.88" cy="409.68" rx="5.80" ry="11.30" transform="rotate(-14 202.88 409.68)"/><ellipse cx="202.20" cy="409.86" rx="5.80" ry="11.30" transform="rotate(-14 202.20 409.86)"/><ellipse cx="201.52" cy="410.04" rx="5.80" ry="11.30" transform="rotate(-14 201.52 410.04)"/><ellipse cx="200.84" cy="410.22" rx="5.80" ry="11.30" transform="rotate(-14 200.84 410.22)"/><ellipse cx="200.17" cy="410.40" rx="5.80" ry="11.30" transform="rotate(-14 200.17 410.40)"/><ellipse cx="199.49" cy="410.58" rx="5.80" ry="11.30" transform="rotate(-14 199.49 410.58)"/><ellipse cx="198.81" cy="410.76" rx="5.80" ry="11.30" transform="rotate(-14 198.81 410.76)"/><ellipse cx="198.13" cy="410.94" rx="5.80" ry="11.30" transform="rotate(-14 198.13 410.94)"/><ellipse cx="197.45" cy="411.11" rx="5.80" ry="11.30" transform="rotate(-14 197.45 411.11)"/><ellipse cx="196.77" cy="411.29" rx="5.80" ry="11.30" transform="rotate(-14 196.77 411.29)"/><ellipse cx="196.10" cy="411.47" rx="5.80" ry="11.30" transform="rotate(-14 196.10 411.47)"/><ellipse cx="195.42" cy="411.65" rx="5.80" ry="11.30" transform="rotate(-14 195.42 411.65)"/><ellipse cx="194.74" cy="411.83" rx="5.80" ry="11.30" transform="rotate(-14 194.74 411.83)"/><ellipse cx="194.06" cy="412.01" rx="5.80" ry="11.30" transform="rotate(-14 194.06 412.01)"/><ellipse cx="193.38" cy="412.19" rx="5.80" ry="11.30" transform="rotate(-14 193.38 412.19)"/><ellipse cx="192.70" cy="412.37" rx="5.80" ry="11.30" transform="rotate(-14 192.70 412.37)"/><ellipse cx="192.03" cy="412.55" rx="5.80" ry="11.30" transform="rotate(-14 192.03 412.55)"/><ellipse cx="191.35" cy="412.72" rx="5.80" ry="11.30" transform="rotate(-14 191.35 412.72)"/><ellipse cx="190.67" cy="412.90" rx="5.80" ry="11.30" transform="rotate(-14 190.67 412.90)"/><ellipse cx="189.99" cy="413.08" rx="5.80" ry="11.30" transform="rotate(-14 189.99 413.08)"/><ellipse cx="189.31" cy="413.26" rx="5.80" ry="11.30" transform="rotate(-14 189.31 413.26)"/><ellipse cx="188.63" cy="413.44" rx="5.80" ry="11.30" transform="rotate(-14 188.63 413.44)"/><ellipse cx="187.96" cy="413.62" rx="5.80" ry="11.30" transform="rotate(-14 187.96 413.62)"/><ellipse cx="187.28" cy="413.80" rx="5.80" ry="11.30" transform="rotate(-14 187.28 413.80)"/><ellipse cx="186.60" cy="413.98" rx="5.80" ry="11.30" transform="rotate(-14 186.60 413.98)"/><ellipse cx="185.92" cy="414.16" rx="5.80" ry="11.30" transform="rotate(-14 185.92 414.16)"/><ellipse cx="185.24" cy="414.34" rx="5.80" ry="11.30" transform="rotate(-14 185.24 414.34)"/><ellipse cx="184.56" cy="414.51" rx="5.80" ry="11.30" transform="rotate(-14 184.56 414.51)"/><ellipse cx="183.89" cy="414.69" rx="5.80" ry="11.30" transform="rotate(-14 183.89 414.69)"/><ellipse cx="183.21" cy="414.87" rx="5.80" ry="11.30" transform="rotate(-14 183.21 414.87)"/><ellipse cx="182.53" cy="415.05" rx="5.80" ry="11.30" transform="rotate(-14 182.53 415.05)"/><ellipse cx="181.85" cy="415.23" rx="5.80" ry="11.30" transform="rotate(-14 181.85 415.23)"/><ellipse cx="181.17" cy="415.41" rx="5.80" ry="11.30" transform="rotate(-14 181.17 415.41)"/><ellipse cx="180.49" cy="415.59" rx="5.80" ry="11.30" transform="rotate(-14 180.49 415.59)"/><ellipse cx="179.82" cy="415.77" rx="5.80" ry="11.30" transform="rotate(-14 179.82 415.77)"/><ellipse cx="179.14" cy="415.95" rx="5.80" ry="11.30" transform="rotate(-14 179.14 415.95)"/><ellipse cx="178.46" cy="416.13" rx="5.80" ry="11.30" transform="rotate(-14 178.46 416.13)"/><ellipse cx="177.78" cy="416.30" rx="5.80" ry="11.30" transform="rotate(-14 177.78 416.30)"/><ellipse cx="177.10" cy="416.48" rx="5.80" ry="11.30" transform="rotate(-14 177.10 416.48)"/><ellipse cx="176.42" cy="416.66" rx="5.80" ry="11.30" transform="rotate(-14 176.42 416.66)"/><ellipse cx="175.75" cy="416.84" rx="5.80" ry="11.30" transform="rotate(-14 175.75 416.84)"/><ellipse cx="175.07" cy="417.02" rx="5.80" ry="11.30" transform="rotate(-14 175.07 417.02)"/><ellipse cx="174.39" cy="417.20" rx="5.80" ry="11.30" transform="rotate(-14 174.39 417.20)"/><ellipse cx="173.71" cy="417.38" rx="5.80" ry="11.30" transform="rotate(-14 173.71 417.38)"/><ellipse cx="173.03" cy="417.56" rx="5.80" ry="11.30" transform="rotate(-14 173.03 417.56)"/><ellipse cx="172.35" cy="417.74" rx="5.80" ry="11.30" transform="rotate(-14 172.35 417.74)"/><ellipse cx="171.68" cy="417.92" rx="5.80" ry="11.30" transform="rotate(-14 171.68 417.92)"/><ellipse cx="171.00" cy="418.09" rx="5.80" ry="11.30" transform="rotate(-14 171.00 418.09)"/><ellipse cx="170.32" cy="418.27" rx="5.80" ry="11.30" transform="rotate(-14 170.32 418.27)"/><ellipse cx="169.64" cy="418.45" rx="5.80" ry="11.30" transform="rotate(-14 169.64 418.45)"/><ellipse cx="168.96" cy="418.63" rx="5.80" ry="11.30" transform="rotate(-14 168.96 418.63)"/><ellipse cx="168.28" cy="418.81" rx="5.80" ry="11.30" transform="rotate(-14 168.28 418.81)"/><ellipse cx="167.61" cy="418.99" rx="5.80" ry="11.30" transform="rotate(-14 167.61 418.99)"/><ellipse cx="166.93" cy="419.17" rx="5.80" ry="11.30" transform="rotate(-14 166.93 419.17)"/><ellipse cx="166.25" cy="419.35" rx="5.80" ry="11.30" transform="rotate(-14 166.25 419.35)"/><ellipse cx="165.57" cy="419.53" rx="5.80" ry="11.30" transform="rotate(-14 165.57 419.53)"/><ellipse cx="164.89" cy="419.71" rx="5.80" ry="11.30" transform="rotate(-14 164.89 419.71)"/><ellipse cx="164.21" cy="419.88" rx="5.80" ry="11.30" transform="rotate(-14 164.21 419.88)"/><ellipse cx="163.54" cy="420.06" rx="5.80" ry="11.30" transform="rotate(-14 163.54 420.06)"/><ellipse cx="162.86" cy="420.24" rx="5.80" ry="11.30" transform="rotate(-14 162.86 420.24)"/><ellipse cx="162.18" cy="420.42" rx="5.80" ry="11.30" transform="rotate(-14 162.18 420.42)"/><ellipse cx="161.50" cy="420.60" rx="5.80" ry="11.30" transform="rotate(-14 161.50 420.60)"/></g>
<ellipse cx="161.50" cy="420.60" rx="6.59" ry="12.09" transform="rotate(-14 161.50 420.60)" fill="none" stroke="#111" stroke-width="1.5750000000000002" />
<path d="M193.3,401.2 C198,406 199.5,416 197.9,423.6" fill="none" stroke="#111" stroke-width="1.26" stroke-linejoin="round" stroke-linecap="round" />
<line x1="168.50" y1="412.20" x2="194.00" y2="405.20" stroke="#666" stroke-width="0.7" />
<line x1="168.50" y1="414.70" x2="194.00" y2="407.70" stroke="#666" stroke-width="0.7" />
<line x1="168.50" y1="417.20" x2="194.00" y2="410.20" stroke="#666" stroke-width="0.7" />
<line x1="168.50" y1="419.70" x2="194.00" y2="412.70" stroke="#666" stroke-width="0.7" />
<line x1="168.50" y1="422.20" x2="194.00" y2="415.20" stroke="#666" stroke-width="0.7" />
<line x1="168.50" y1="424.70" x2="194.00" y2="417.70" stroke="#666" stroke-width="0.7" />
<line x1="168.50" y1="427.20" x2="194.00" y2="420.20" stroke="#666" stroke-width="0.7" />
<line x1="168.50" y1="429.70" x2="194.00" y2="422.70" stroke="#666" stroke-width="0.7" />
<path d="M251.4,386.2 L258,384.6 L259,387.2 L252.4,388.8 Z" fill="#333" stroke="#111" stroke-width="0.8" stroke-linejoin="round" stroke-linecap="round" />
<line x1="236.70" y1="375.50" x2="236.70" y2="393.40" stroke="#222" stroke-width="0.9" />
<text transform="translate(256.00,339.40) scale(0.86,1)" font-size="10" text-anchor="middle" fill="#111" stroke="#111" stroke-width="0.2">10</text>
<line x1="256.00" y1="340.60" x2="256.00" y2="347.30" stroke="#222" stroke-width="0.9" />
<path d="M251.80,355.79 L262.37,360.35 A3.1,3.1 0 0 0 264.83,354.65 L254.25,350.10 Z" fill="#fff" stroke="#111" stroke-width="1.3650000000000002" stroke-linejoin="round" stroke-linecap="round" />
<line x1="254.07" y1="356.43" x2="257.38" y2="351.78" stroke="#111" stroke-width="0.9" />
<line x1="255.70" y1="357.13" x2="259.01" y2="352.48" stroke="#111" stroke-width="0.9" />
<line x1="257.32" y1="357.83" x2="260.63" y2="353.18" stroke="#111" stroke-width="0.9" />
<line x1="258.94" y1="358.53" x2="262.25" y2="353.88" stroke="#111" stroke-width="0.9" />
<line x1="260.56" y1="359.23" x2="263.87" y2="354.58" stroke="#111" stroke-width="0.9" />
<ellipse cx="250.60" cy="351.90" rx="4.40" ry="5.00" transform="rotate(-20 250.60 351.90)" fill="#fff" stroke="#111" stroke-width="1.6800000000000002" />
<ellipse cx="251.00" cy="352.10" rx="2.20" ry="3.00" transform="rotate(-20 251.00 352.10)" fill="none" stroke="#777" stroke-width="0.6" />
<text transform="translate(308.80,322.10) scale(0.86,1)" font-size="10" text-anchor="middle" fill="#111" stroke="#111" stroke-width="0.2">9</text>
<line x1="308.80" y1="325.00" x2="308.80" y2="337.50" stroke="#222" stroke-width="0.9" />
<path d="M296.7,340 C299,339 301,338.9 303.6,338.8 L340.8,329.7 C344,329.5 349,332 352,336.2 C352.5,338 351.5,339 349.5,338.6 C348,338.3 347,337.5 346,337.1 C345,339.5 344.3,340.6 343.4,340.5 C341,340.5 338,339.5 335.6,338 C334,338.5 334.5,341 335,343.2 C333.3,350 333.8,364 337.7,379.7 C339.5,387 343,395 349.7,402 C350.5,404 350.5,406.5 350,407.3 C349,407.8 348,407.2 347.5,406.4 C345,403.5 343,401.3 341.5,401.2 C339.5,400.3 337,401.5 335.4,403.8 C335,407 336,411 334.5,412.2 C333,412.8 331,411.5 329.5,409.5 C328,407.5 327,405.7 325.9,405.5 C324,404.5 321.5,404.5 320.5,406.5 C319.5,409 320.7,413 320.7,415 C320.5,417.5 319,417.8 317.3,417.6 C311,416 304,410 300,404.7 C292,394 288,382 287.8,370 C287.6,358 291,346 296.7,340 Z" fill="#fff" stroke="#111" stroke-width="1.785" stroke-linejoin="round" stroke-linecap="round" />
<path d="M335,343.2 L333,343.6 C330,343 327,342 324.4,341 C323.5,342.5 323,344 322.6,344.9 C322,346.2 321.5,347 320.9,347 L304.5,343.1 C302.5,343 301,343.3 300.2,344" fill="none" stroke="#111" stroke-width="1.5750000000000002" stroke-linejoin="round" stroke-linecap="round" />
<path d="M300.2,344 C294,352 291.9,362 291.9,370 C291.9,380 293.5,390 299.4,397.4 C303,403 309,409 317.3,415" fill="none" stroke="#444" stroke-width="0.9" stroke-linejoin="round" stroke-linecap="round" />
<circle cx="316.5" cy="374.9" r="1.8" fill="#111"/>
<line x1="289.80" y1="385.10" x2="358.00" y2="368.00" stroke="#222" stroke-width="0.9" />
<line x1="264.50" y1="358.60" x2="287.60" y2="365.30" stroke="#222" stroke-width="0.9" />
<text transform="translate(276.80,356.00) scale(0.86,1)" font-size="10" text-anchor="middle" fill="#111" stroke="#111" stroke-width="0.2">11</text>
<line x1="276.80" y1="357.00" x2="276.80" y2="373.00" stroke="#222" stroke-width="0.9" />
<g fill="#fff" stroke="#111" stroke-width="3.3600000000000003"><ellipse cx="279.20" cy="389.00" rx="9.60" ry="17.30" transform="rotate(-12 279.20 389.00)"/><ellipse cx="278.69" cy="389.15" rx="9.60" ry="17.30" transform="rotate(-12 278.69 389.15)"/><ellipse cx="278.19" cy="389.31" rx="9.60" ry="17.30" transform="rotate(-12 278.19 389.31)"/><ellipse cx="277.68" cy="389.46" rx="9.60" ry="17.30" transform="rotate(-12 277.68 389.46)"/><ellipse cx="277.17" cy="389.61" rx="9.60" ry="17.30" transform="rotate(-12 277.17 389.61)"/><ellipse cx="276.67" cy="389.77" rx="9.60" ry="17.30" transform="rotate(-12 276.67 389.77)"/><ellipse cx="276.16" cy="389.92" rx="9.60" ry="17.30" transform="rotate(-12 276.16 389.92)"/><ellipse cx="275.65" cy="390.07" rx="9.60" ry="17.30" transform="rotate(-12 275.65 390.07)"/><ellipse cx="275.15" cy="390.23" rx="9.60" ry="17.30" transform="rotate(-12 275.15 390.23)"/><ellipse cx="274.64" cy="390.38" rx="9.60" ry="17.30" transform="rotate(-12 274.64 390.38)"/><ellipse cx="274.13" cy="390.53" rx="9.60" ry="17.30" transform="rotate(-12 274.13 390.53)"/><ellipse cx="273.63" cy="390.69" rx="9.60" ry="17.30" transform="rotate(-12 273.63 390.69)"/><ellipse cx="273.12" cy="390.84" rx="9.60" ry="17.30" transform="rotate(-12 273.12 390.84)"/><ellipse cx="272.61" cy="390.99" rx="9.60" ry="17.30" transform="rotate(-12 272.61 390.99)"/><ellipse cx="272.11" cy="391.15" rx="9.60" ry="17.30" transform="rotate(-12 272.11 391.15)"/><ellipse cx="271.60" cy="391.30" rx="9.60" ry="17.30" transform="rotate(-12 271.60 391.30)"/></g>
<g fill="#fff" stroke="none"><ellipse cx="279.20" cy="389.00" rx="9.60" ry="17.30" transform="rotate(-12 279.20 389.00)"/><ellipse cx="278.69" cy="389.15" rx="9.60" ry="17.30" transform="rotate(-12 278.69 389.15)"/><ellipse cx="278.19" cy="389.31" rx="9.60" ry="17.30" transform="rotate(-12 278.19 389.31)"/><ellipse cx="277.68" cy="389.46" rx="9.60" ry="17.30" transform="rotate(-12 277.68 389.46)"/><ellipse cx="277.17" cy="389.61" rx="9.60" ry="17.30" transform="rotate(-12 277.17 389.61)"/><ellipse cx="276.67" cy="389.77" rx="9.60" ry="17.30" transform="rotate(-12 276.67 389.77)"/><ellipse cx="276.16" cy="389.92" rx="9.60" ry="17.30" transform="rotate(-12 276.16 389.92)"/><ellipse cx="275.65" cy="390.07" rx="9.60" ry="17.30" transform="rotate(-12 275.65 390.07)"/><ellipse cx="275.15" cy="390.23" rx="9.60" ry="17.30" transform="rotate(-12 275.15 390.23)"/><ellipse cx="274.64" cy="390.38" rx="9.60" ry="17.30" transform="rotate(-12 274.64 390.38)"/><ellipse cx="274.13" cy="390.53" rx="9.60" ry="17.30" transform="rotate(-12 274.13 390.53)"/><ellipse cx="273.63" cy="390.69" rx="9.60" ry="17.30" transform="rotate(-12 273.63 390.69)"/><ellipse cx="273.12" cy="390.84" rx="9.60" ry="17.30" transform="rotate(-12 273.12 390.84)"/><ellipse cx="272.61" cy="390.99" rx="9.60" ry="17.30" transform="rotate(-12 272.61 390.99)"/><ellipse cx="272.11" cy="391.15" rx="9.60" ry="17.30" transform="rotate(-12 272.11 391.15)"/><ellipse cx="271.60" cy="391.30" rx="9.60" ry="17.30" transform="rotate(-12 271.60 391.30)"/></g>
<ellipse cx="271.60" cy="391.30" rx="10.44" ry="18.14" transform="rotate(-12 271.60 391.30)" fill="none" stroke="#111" stroke-width="1.6800000000000002" />
<ellipse cx="271.80" cy="392.60" rx="5.20" ry="10.90" transform="rotate(-12 271.80 392.60)" fill="#fff" stroke="#111" stroke-width="1.785" />
<path d="M268.5,384 C267,390 267.5,397 270,401.5" fill="none" stroke="#444" stroke-width="1.0" stroke-linejoin="round" stroke-linecap="round" />
<path d="M266,386 L263.5,393 C264,399 266,402 268,403" fill="none" stroke="#111" stroke-width="0" stroke-linejoin="round" stroke-linecap="round" />
<line x1="289.70" y1="385.50" x2="330.00" y2="375.40" stroke="#222" stroke-width="0.9" />
<g fill="#fff" stroke="#111" stroke-width="3.3600000000000003"><ellipse cx="480.20" cy="335.80" rx="25.80" ry="46.20" transform="rotate(-13.7 480.20 335.80)"/><ellipse cx="479.64" cy="335.96" rx="25.80" ry="46.20" transform="rotate(-13.7 479.64 335.96)"/><ellipse cx="479.08" cy="336.12" rx="25.80" ry="46.20" transform="rotate(-13.7 479.08 336.12)"/><ellipse cx="478.52" cy="336.28" rx="25.80" ry="46.20" transform="rotate(-13.7 478.52 336.28)"/><ellipse cx="477.96" cy="336.44" rx="25.80" ry="46.20" transform="rotate(-13.7 477.96 336.44)"/><ellipse cx="477.40" cy="336.60" rx="25.80" ry="46.20" transform="rotate(-13.7 477.40 336.60)"/></g>
<g fill="#fff" stroke="none"><ellipse cx="480.20" cy="335.80" rx="25.80" ry="46.20" transform="rotate(-13.7 480.20 335.80)"/><ellipse cx="479.64" cy="335.96" rx="25.80" ry="46.20" transform="rotate(-13.7 479.64 335.96)"/><ellipse cx="479.08" cy="336.12" rx="25.80" ry="46.20" transform="rotate(-13.7 479.08 336.12)"/><ellipse cx="478.52" cy="336.28" rx="25.80" ry="46.20" transform="rotate(-13.7 478.52 336.28)"/><ellipse cx="477.96" cy="336.44" rx="25.80" ry="46.20" transform="rotate(-13.7 477.96 336.44)"/><ellipse cx="477.40" cy="336.60" rx="25.80" ry="46.20" transform="rotate(-13.7 477.40 336.60)"/></g>
<ellipse cx="477.40" cy="336.60" rx="26.64" ry="47.04" transform="rotate(-13.7 477.40 336.60)" fill="none" stroke="#111" stroke-width="1.6800000000000002" />
<g fill="#fff" stroke="#111" stroke-width="3.3600000000000003"><ellipse cx="466.00" cy="339.80" rx="14.50" ry="27.50" transform="rotate(-12 466.00 339.80)"/><ellipse cx="465.30" cy="339.94" rx="14.50" ry="27.50" transform="rotate(-12 465.30 339.94)"/><ellipse cx="464.60" cy="340.07" rx="14.50" ry="27.50" transform="rotate(-12 464.60 340.07)"/><ellipse cx="463.90" cy="340.20" rx="14.50" ry="27.50" transform="rotate(-12 463.90 340.20)"/><ellipse cx="463.20" cy="340.34" rx="14.50" ry="27.50" transform="rotate(-12 463.20 340.34)"/><ellipse cx="462.50" cy="340.48" rx="14.50" ry="27.50" transform="rotate(-12 462.50 340.48)"/><ellipse cx="461.80" cy="340.61" rx="14.50" ry="27.50" transform="rotate(-12 461.80 340.61)"/><ellipse cx="461.10" cy="340.75" rx="14.50" ry="27.50" transform="rotate(-12 461.10 340.75)"/><ellipse cx="460.40" cy="340.88" rx="14.50" ry="27.50" transform="rotate(-12 460.40 340.88)"/><ellipse cx="459.70" cy="341.01" rx="14.50" ry="27.50" transform="rotate(-12 459.70 341.01)"/><ellipse cx="459.00" cy="341.15" rx="14.50" ry="27.50" transform="rotate(-12 459.00 341.15)"/><ellipse cx="458.30" cy="341.29" rx="14.50" ry="27.50" transform="rotate(-12 458.30 341.29)"/><ellipse cx="457.60" cy="341.42" rx="14.50" ry="27.50" transform="rotate(-12 457.60 341.42)"/><ellipse cx="456.90" cy="341.56" rx="14.50" ry="27.50" transform="rotate(-12 456.90 341.56)"/><ellipse cx="456.20" cy="341.69" rx="14.50" ry="27.50" transform="rotate(-12 456.20 341.69)"/><ellipse cx="455.50" cy="341.82" rx="14.50" ry="27.50" transform="rotate(-12 455.50 341.82)"/><ellipse cx="454.80" cy="341.96" rx="14.50" ry="27.50" transform="rotate(-12 454.80 341.96)"/><ellipse cx="454.10" cy="342.10" rx="14.50" ry="27.50" transform="rotate(-12 454.10 342.10)"/><ellipse cx="453.40" cy="342.23" rx="14.50" ry="27.50" transform="rotate(-12 453.40 342.23)"/><ellipse cx="452.70" cy="342.37" rx="14.50" ry="27.50" transform="rotate(-12 452.70 342.37)"/><ellipse cx="452.00" cy="342.50" rx="14.50" ry="27.50" transform="rotate(-12 452.00 342.50)"/></g>
<g fill="#fff" stroke="none"><ellipse cx="466.00" cy="339.80" rx="14.50" ry="27.50" transform="rotate(-12 466.00 339.80)"/><ellipse cx="465.30" cy="339.94" rx="14.50" ry="27.50" transform="rotate(-12 465.30 339.94)"/><ellipse cx="464.60" cy="340.07" rx="14.50" ry="27.50" transform="rotate(-12 464.60 340.07)"/><ellipse cx="463.90" cy="340.20" rx="14.50" ry="27.50" transform="rotate(-12 463.90 340.20)"/><ellipse cx="463.20" cy="340.34" rx="14.50" ry="27.50" transform="rotate(-12 463.20 340.34)"/><ellipse cx="462.50" cy="340.48" rx="14.50" ry="27.50" transform="rotate(-12 462.50 340.48)"/><ellipse cx="461.80" cy="340.61" rx="14.50" ry="27.50" transform="rotate(-12 461.80 340.61)"/><ellipse cx="461.10" cy="340.75" rx="14.50" ry="27.50" transform="rotate(-12 461.10 340.75)"/><ellipse cx="460.40" cy="340.88" rx="14.50" ry="27.50" transform="rotate(-12 460.40 340.88)"/><ellipse cx="459.70" cy="341.01" rx="14.50" ry="27.50" transform="rotate(-12 459.70 341.01)"/><ellipse cx="459.00" cy="341.15" rx="14.50" ry="27.50" transform="rotate(-12 459.00 341.15)"/><ellipse cx="458.30" cy="341.29" rx="14.50" ry="27.50" transform="rotate(-12 458.30 341.29)"/><ellipse cx="457.60" cy="341.42" rx="14.50" ry="27.50" transform="rotate(-12 457.60 341.42)"/><ellipse cx="456.90" cy="341.56" rx="14.50" ry="27.50" transform="rotate(-12 456.90 341.56)"/><ellipse cx="456.20" cy="341.69" rx="14.50" ry="27.50" transform="rotate(-12 456.20 341.69)"/><ellipse cx="455.50" cy="341.82" rx="14.50" ry="27.50" transform="rotate(-12 455.50 341.82)"/><ellipse cx="454.80" cy="341.96" rx="14.50" ry="27.50" transform="rotate(-12 454.80 341.96)"/><ellipse cx="454.10" cy="342.10" rx="14.50" ry="27.50" transform="rotate(-12 454.10 342.10)"/><ellipse cx="453.40" cy="342.23" rx="14.50" ry="27.50" transform="rotate(-12 453.40 342.23)"/><ellipse cx="452.70" cy="342.37" rx="14.50" ry="27.50" transform="rotate(-12 452.70 342.37)"/><ellipse cx="452.00" cy="342.50" rx="14.50" ry="27.50" transform="rotate(-12 452.00 342.50)"/></g>
<ellipse cx="452.00" cy="342.50" rx="15.34" ry="28.34" transform="rotate(-12 452.00 342.50)" fill="none" stroke="#111" stroke-width="1.6800000000000002" />
<path d="M456,318 C462,326 465,336 465.5,346 C466,354 465,360 463,365" fill="none" stroke="#111" stroke-width="0.9" stroke-linejoin="round" stroke-linecap="round" />
<path d="M468.8,330 C471,337 472,344 471.5,352" fill="none" stroke="#111" stroke-width="0.9" stroke-linejoin="round" stroke-linecap="round" />
<path d="M483.00,334.20 L484.20,332.40 L517.41,342.02 L517.11,344.12" fill="#fff" stroke="#111" stroke-width="1.26" stroke-linejoin="round" stroke-linecap="round" />
<path d="M483.00,334.20 L515.61,343.82 L517.05,345.74 L517.05,349.39 L516.09,350.11 L505.64,347.03 A3.1,3.1 0 0 0 505.64,353.23 L516.09,356.31 L517.05,357.59 L517.05,361.24 L515.61,362.32 L483.00,352.70 Z" fill="#fff" stroke="#111" stroke-width="1.5750000000000002" stroke-linejoin="round" stroke-linecap="round" />
<line x1="515.85" y1="345.94" x2="515.85" y2="349.59" stroke="#333" stroke-width="0.8" />
<line x1="515.85" y1="357.79" x2="515.85" y2="361.44" stroke="#333" stroke-width="0.8" />
<path d="M393,312 L425.5,304.6 C430,303 436.3,303.2 440,305 C447,309 457,322 461.5,340 C464,355 463.5,370 457.5,383 C453,391 447,396.5 441.3,397.5 L427.5,401 L395.2,409.7 Z" fill="#fff" stroke="#111" stroke-width="1.6800000000000002" stroke-linejoin="round" stroke-linecap="round" />
<g fill="#fff" stroke="#111" stroke-width="3.3600000000000003"><ellipse cx="408.80" cy="310.00" rx="15.90" ry="4.60" transform="rotate(0 408.80 310.00)"/><ellipse cx="408.80" cy="309.50" rx="15.90" ry="4.60" transform="rotate(0 408.80 309.50)"/><ellipse cx="408.80" cy="309.00" rx="15.90" ry="4.60" transform="rotate(0 408.80 309.00)"/><ellipse cx="408.80" cy="308.50" rx="15.90" ry="4.60" transform="rotate(0 408.80 308.50)"/><ellipse cx="408.80" cy="308.00" rx="15.90" ry="4.60" transform="rotate(0 408.80 308.00)"/><ellipse cx="408.80" cy="307.50" rx="15.90" ry="4.60" transform="rotate(0 408.80 307.50)"/><ellipse cx="408.80" cy="307.00" rx="15.90" ry="4.60" transform="rotate(0 408.80 307.00)"/><ellipse cx="408.80" cy="306.50" rx="15.90" ry="4.60" transform="rotate(0 408.80 306.50)"/><ellipse cx="408.80" cy="306.00" rx="15.90" ry="4.60" transform="rotate(0 408.80 306.00)"/><ellipse cx="408.80" cy="305.50" rx="15.90" ry="4.60" transform="rotate(0 408.80 305.50)"/><ellipse cx="408.80" cy="305.00" rx="15.90" ry="4.60" transform="rotate(0 408.80 305.00)"/><ellipse cx="408.80" cy="304.50" rx="15.90" ry="4.60" transform="rotate(0 408.80 304.50)"/><ellipse cx="408.80" cy="304.00" rx="15.90" ry="4.60" transform="rotate(0 408.80 304.00)"/><ellipse cx="408.80" cy="303.50" rx="15.90" ry="4.60" transform="rotate(0 408.80 303.50)"/><ellipse cx="408.80" cy="303.00" rx="15.90" ry="4.60" transform="rotate(0 408.80 303.00)"/><ellipse cx="408.80" cy="302.50" rx="15.90" ry="4.60" transform="rotate(0 408.80 302.50)"/><ellipse cx="408.80" cy="302.00" rx="15.90" ry="4.60" transform="rotate(0 408.80 302.00)"/><ellipse cx="408.80" cy="301.50" rx="15.90" ry="4.60" transform="rotate(0 408.80 301.50)"/><ellipse cx="408.80" cy="301.00" rx="15.90" ry="4.60" transform="rotate(0 408.80 301.00)"/><ellipse cx="408.80" cy="300.50" rx="15.90" ry="4.60" transform="rotate(0 408.80 300.50)"/><ellipse cx="408.80" cy="300.00" rx="15.90" ry="4.60" transform="rotate(0 408.80 300.00)"/><ellipse cx="408.80" cy="299.50" rx="15.90" ry="4.60" transform="rotate(0 408.80 299.50)"/><ellipse cx="408.80" cy="299.00" rx="15.90" ry="4.60" transform="rotate(0 408.80 299.00)"/><ellipse cx="408.80" cy="298.50" rx="15.90" ry="4.60" transform="rotate(0 408.80 298.50)"/><ellipse cx="408.80" cy="298.00" rx="15.90" ry="4.60" transform="rotate(0 408.80 298.00)"/><ellipse cx="408.80" cy="297.50" rx="15.90" ry="4.60" transform="rotate(0 408.80 297.50)"/><ellipse cx="408.80" cy="297.00" rx="15.90" ry="4.60" transform="rotate(0 408.80 297.00)"/><ellipse cx="408.80" cy="296.50" rx="15.90" ry="4.60" transform="rotate(0 408.80 296.50)"/><ellipse cx="408.80" cy="296.00" rx="15.90" ry="4.60" transform="rotate(0 408.80 296.00)"/><ellipse cx="408.80" cy="295.50" rx="15.90" ry="4.60" transform="rotate(0 408.80 295.50)"/><ellipse cx="408.80" cy="295.00" rx="15.90" ry="4.60" transform="rotate(0 408.80 295.00)"/><ellipse cx="408.80" cy="294.50" rx="15.90" ry="4.60" transform="rotate(0 408.80 294.50)"/><ellipse cx="408.80" cy="294.00" rx="15.90" ry="4.60" transform="rotate(0 408.80 294.00)"/><ellipse cx="408.80" cy="293.50" rx="15.90" ry="4.60" transform="rotate(0 408.80 293.50)"/><ellipse cx="408.80" cy="293.00" rx="15.90" ry="4.60" transform="rotate(0 408.80 293.00)"/><ellipse cx="408.80" cy="292.50" rx="15.90" ry="4.60" transform="rotate(0 408.80 292.50)"/><ellipse cx="408.80" cy="292.00" rx="15.90" ry="4.60" transform="rotate(0 408.80 292.00)"/><ellipse cx="408.80" cy="291.50" rx="15.90" ry="4.60" transform="rotate(0 408.80 291.50)"/><ellipse cx="408.80" cy="291.00" rx="15.90" ry="4.60" transform="rotate(0 408.80 291.00)"/><ellipse cx="408.80" cy="290.50" rx="15.90" ry="4.60" transform="rotate(0 408.80 290.50)"/><ellipse cx="408.80" cy="290.00" rx="15.90" ry="4.60" transform="rotate(0 408.80 290.00)"/><ellipse cx="408.80" cy="289.50" rx="15.90" ry="4.60" transform="rotate(0 408.80 289.50)"/><ellipse cx="408.80" cy="289.00" rx="15.90" ry="4.60" transform="rotate(0 408.80 289.00)"/><ellipse cx="408.80" cy="288.50" rx="15.90" ry="4.60" transform="rotate(0 408.80 288.50)"/><ellipse cx="408.80" cy="288.00" rx="15.90" ry="4.60" transform="rotate(0 408.80 288.00)"/><ellipse cx="408.80" cy="287.50" rx="15.90" ry="4.60" transform="rotate(0 408.80 287.50)"/><ellipse cx="408.80" cy="287.00" rx="15.90" ry="4.60" transform="rotate(0 408.80 287.00)"/><ellipse cx="408.80" cy="286.50" rx="15.90" ry="4.60" transform="rotate(0 408.80 286.50)"/><ellipse cx="408.80" cy="286.00" rx="15.90" ry="4.60" transform="rotate(0 408.80 286.00)"/><ellipse cx="408.80" cy="285.50" rx="15.90" ry="4.60" transform="rotate(0 408.80 285.50)"/><ellipse cx="408.80" cy="285.00" rx="15.90" ry="4.60" transform="rotate(0 408.80 285.00)"/><ellipse cx="408.80" cy="284.50" rx="15.90" ry="4.60" transform="rotate(0 408.80 284.50)"/><ellipse cx="408.80" cy="284.00" rx="15.90" ry="4.60" transform="rotate(0 408.80 284.00)"/><ellipse cx="408.80" cy="283.50" rx="15.90" ry="4.60" transform="rotate(0 408.80 283.50)"/><ellipse cx="408.80" cy="283.00" rx="15.90" ry="4.60" transform="rotate(0 408.80 283.00)"/><ellipse cx="408.80" cy="282.50" rx="15.90" ry="4.60" transform="rotate(0 408.80 282.50)"/><ellipse cx="408.80" cy="282.00" rx="15.90" ry="4.60" transform="rotate(0 408.80 282.00)"/><ellipse cx="408.80" cy="281.50" rx="15.90" ry="4.60" transform="rotate(0 408.80 281.50)"/><ellipse cx="408.80" cy="281.00" rx="15.90" ry="4.60" transform="rotate(0 408.80 281.00)"/><ellipse cx="408.80" cy="280.50" rx="15.90" ry="4.60" transform="rotate(0 408.80 280.50)"/><ellipse cx="408.80" cy="280.00" rx="15.90" ry="4.60" transform="rotate(0 408.80 280.00)"/></g>
<g fill="#fff" stroke="none"><ellipse cx="408.80" cy="310.00" rx="15.90" ry="4.60" transform="rotate(0 408.80 310.00)"/><ellipse cx="408.80" cy="309.50" rx="15.90" ry="4.60" transform="rotate(0 408.80 309.50)"/><ellipse cx="408.80" cy="309.00" rx="15.90" ry="4.60" transform="rotate(0 408.80 309.00)"/><ellipse cx="408.80" cy="308.50" rx="15.90" ry="4.60" transform="rotate(0 408.80 308.50)"/><ellipse cx="408.80" cy="308.00" rx="15.90" ry="4.60" transform="rotate(0 408.80 308.00)"/><ellipse cx="408.80" cy="307.50" rx="15.90" ry="4.60" transform="rotate(0 408.80 307.50)"/><ellipse cx="408.80" cy="307.00" rx="15.90" ry="4.60" transform="rotate(0 408.80 307.00)"/><ellipse cx="408.80" cy="306.50" rx="15.90" ry="4.60" transform="rotate(0 408.80 306.50)"/><ellipse cx="408.80" cy="306.00" rx="15.90" ry="4.60" transform="rotate(0 408.80 306.00)"/><ellipse cx="408.80" cy="305.50" rx="15.90" ry="4.60" transform="rotate(0 408.80 305.50)"/><ellipse cx="408.80" cy="305.00" rx="15.90" ry="4.60" transform="rotate(0 408.80 305.00)"/><ellipse cx="408.80" cy="304.50" rx="15.90" ry="4.60" transform="rotate(0 408.80 304.50)"/><ellipse cx="408.80" cy="304.00" rx="15.90" ry="4.60" transform="rotate(0 408.80 304.00)"/><ellipse cx="408.80" cy="303.50" rx="15.90" ry="4.60" transform="rotate(0 408.80 303.50)"/><ellipse cx="408.80" cy="303.00" rx="15.90" ry="4.60" transform="rotate(0 408.80 303.00)"/><ellipse cx="408.80" cy="302.50" rx="15.90" ry="4.60" transform="rotate(0 408.80 302.50)"/><ellipse cx="408.80" cy="302.00" rx="15.90" ry="4.60" transform="rotate(0 408.80 302.00)"/><ellipse cx="408.80" cy="301.50" rx="15.90" ry="4.60" transform="rotate(0 408.80 301.50)"/><ellipse cx="408.80" cy="301.00" rx="15.90" ry="4.60" transform="rotate(0 408.80 301.00)"/><ellipse cx="408.80" cy="300.50" rx="15.90" ry="4.60" transform="rotate(0 408.80 300.50)"/><ellipse cx="408.80" cy="300.00" rx="15.90" ry="4.60" transform="rotate(0 408.80 300.00)"/><ellipse cx="408.80" cy="299.50" rx="15.90" ry="4.60" transform="rotate(0 408.80 299.50)"/><ellipse cx="408.80" cy="299.00" rx="15.90" ry="4.60" transform="rotate(0 408.80 299.00)"/><ellipse cx="408.80" cy="298.50" rx="15.90" ry="4.60" transform="rotate(0 408.80 298.50)"/><ellipse cx="408.80" cy="298.00" rx="15.90" ry="4.60" transform="rotate(0 408.80 298.00)"/><ellipse cx="408.80" cy="297.50" rx="15.90" ry="4.60" transform="rotate(0 408.80 297.50)"/><ellipse cx="408.80" cy="297.00" rx="15.90" ry="4.60" transform="rotate(0 408.80 297.00)"/><ellipse cx="408.80" cy="296.50" rx="15.90" ry="4.60" transform="rotate(0 408.80 296.50)"/><ellipse cx="408.80" cy="296.00" rx="15.90" ry="4.60" transform="rotate(0 408.80 296.00)"/><ellipse cx="408.80" cy="295.50" rx="15.90" ry="4.60" transform="rotate(0 408.80 295.50)"/><ellipse cx="408.80" cy="295.00" rx="15.90" ry="4.60" transform="rotate(0 408.80 295.00)"/><ellipse cx="408.80" cy="294.50" rx="15.90" ry="4.60" transform="rotate(0 408.80 294.50)"/><ellipse cx="408.80" cy="294.00" rx="15.90" ry="4.60" transform="rotate(0 408.80 294.00)"/><ellipse cx="408.80" cy="293.50" rx="15.90" ry="4.60" transform="rotate(0 408.80 293.50)"/><ellipse cx="408.80" cy="293.00" rx="15.90" ry="4.60" transform="rotate(0 408.80 293.00)"/><ellipse cx="408.80" cy="292.50" rx="15.90" ry="4.60" transform="rotate(0 408.80 292.50)"/><ellipse cx="408.80" cy="292.00" rx="15.90" ry="4.60" transform="rotate(0 408.80 292.00)"/><ellipse cx="408.80" cy="291.50" rx="15.90" ry="4.60" transform="rotate(0 408.80 291.50)"/><ellipse cx="408.80" cy="291.00" rx="15.90" ry="4.60" transform="rotate(0 408.80 291.00)"/><ellipse cx="408.80" cy="290.50" rx="15.90" ry="4.60" transform="rotate(0 408.80 290.50)"/><ellipse cx="408.80" cy="290.00" rx="15.90" ry="4.60" transform="rotate(0 408.80 290.00)"/><ellipse cx="408.80" cy="289.50" rx="15.90" ry="4.60" transform="rotate(0 408.80 289.50)"/><ellipse cx="408.80" cy="289.00" rx="15.90" ry="4.60" transform="rotate(0 408.80 289.00)"/><ellipse cx="408.80" cy="288.50" rx="15.90" ry="4.60" transform="rotate(0 408.80 288.50)"/><ellipse cx="408.80" cy="288.00" rx="15.90" ry="4.60" transform="rotate(0 408.80 288.00)"/><ellipse cx="408.80" cy="287.50" rx="15.90" ry="4.60" transform="rotate(0 408.80 287.50)"/><ellipse cx="408.80" cy="287.00" rx="15.90" ry="4.60" transform="rotate(0 408.80 287.00)"/><ellipse cx="408.80" cy="286.50" rx="15.90" ry="4.60" transform="rotate(0 408.80 286.50)"/><ellipse cx="408.80" cy="286.00" rx="15.90" ry="4.60" transform="rotate(0 408.80 286.00)"/><ellipse cx="408.80" cy="285.50" rx="15.90" ry="4.60" transform="rotate(0 408.80 285.50)"/><ellipse cx="408.80" cy="285.00" rx="15.90" ry="4.60" transform="rotate(0 408.80 285.00)"/><ellipse cx="408.80" cy="284.50" rx="15.90" ry="4.60" transform="rotate(0 408.80 284.50)"/><ellipse cx="408.80" cy="284.00" rx="15.90" ry="4.60" transform="rotate(0 408.80 284.00)"/><ellipse cx="408.80" cy="283.50" rx="15.90" ry="4.60" transform="rotate(0 408.80 283.50)"/><ellipse cx="408.80" cy="283.00" rx="15.90" ry="4.60" transform="rotate(0 408.80 283.00)"/><ellipse cx="408.80" cy="282.50" rx="15.90" ry="4.60" transform="rotate(0 408.80 282.50)"/><ellipse cx="408.80" cy="282.00" rx="15.90" ry="4.60" transform="rotate(0 408.80 282.00)"/><ellipse cx="408.80" cy="281.50" rx="15.90" ry="4.60" transform="rotate(0 408.80 281.50)"/><ellipse cx="408.80" cy="281.00" rx="15.90" ry="4.60" transform="rotate(0 408.80 281.00)"/><ellipse cx="408.80" cy="280.50" rx="15.90" ry="4.60" transform="rotate(0 408.80 280.50)"/><ellipse cx="408.80" cy="280.00" rx="15.90" ry="4.60" transform="rotate(0 408.80 280.00)"/></g>
<path d="M392.2,308 L392.2,312 C396,315.5 420,315.5 425.6,311.5 L425.6,308 Z" fill="#fff" stroke="none" stroke-width="0" stroke-linejoin="round" stroke-linecap="round" />
<path d="M393.2,309.5 C396,312.8 420,312.8 424.7,309.5" fill="none" stroke="#999" stroke-width="0.7" stroke-linejoin="round" stroke-linecap="round" />
<line x1="393.20" y1="300.00" x2="393.20" y2="311.50" stroke="#111" stroke-width="1.9" />
<line x1="424.80" y1="300.00" x2="424.80" y2="310.50" stroke="#111" stroke-width="1.9" />
<path d="M421,311.5 C424,310.5 425.5,308 425.3,304.5" fill="none" stroke="#111" stroke-width="1.26" stroke-linejoin="round" stroke-linecap="round" />
<g fill="#fff" stroke="#111" stroke-width="3.3600000000000003"><ellipse cx="408.50" cy="282.50" rx="17.60" ry="5.00" transform="rotate(0 408.50 282.50)"/><ellipse cx="408.50" cy="282.07" rx="17.60" ry="5.00" transform="rotate(0 408.50 282.07)"/><ellipse cx="408.50" cy="281.64" rx="17.60" ry="5.00" transform="rotate(0 408.50 281.64)"/><ellipse cx="408.50" cy="281.21" rx="17.60" ry="5.00" transform="rotate(0 408.50 281.21)"/><ellipse cx="408.50" cy="280.79" rx="17.60" ry="5.00" transform="rotate(0 408.50 280.79)"/><ellipse cx="408.50" cy="280.36" rx="17.60" ry="5.00" transform="rotate(0 408.50 280.36)"/><ellipse cx="408.50" cy="279.93" rx="17.60" ry="5.00" transform="rotate(0 408.50 279.93)"/><ellipse cx="408.50" cy="279.50" rx="17.60" ry="5.00" transform="rotate(0 408.50 279.50)"/></g>
<g fill="#fff" stroke="none"><ellipse cx="408.50" cy="282.50" rx="17.60" ry="5.00" transform="rotate(0 408.50 282.50)"/><ellipse cx="408.50" cy="282.07" rx="17.60" ry="5.00" transform="rotate(0 408.50 282.07)"/><ellipse cx="408.50" cy="281.64" rx="17.60" ry="5.00" transform="rotate(0 408.50 281.64)"/><ellipse cx="408.50" cy="281.21" rx="17.60" ry="5.00" transform="rotate(0 408.50 281.21)"/><ellipse cx="408.50" cy="280.79" rx="17.60" ry="5.00" transform="rotate(0 408.50 280.79)"/><ellipse cx="408.50" cy="280.36" rx="17.60" ry="5.00" transform="rotate(0 408.50 280.36)"/><ellipse cx="408.50" cy="279.93" rx="17.60" ry="5.00" transform="rotate(0 408.50 279.93)"/><ellipse cx="408.50" cy="279.50" rx="17.60" ry="5.00" transform="rotate(0 408.50 279.50)"/></g>
<ellipse cx="408.50" cy="279.50" rx="18.44" ry="5.84" transform="rotate(0 408.50 279.50)" fill="none" stroke="#111" stroke-width="1.6800000000000002" />
<ellipse cx="409.20" cy="280.20" rx="12.30" ry="3.60" transform="rotate(0 409.20 280.20)" fill="#fff" stroke="#111" stroke-width="1.26" />
<path d="M397.5,281.2 C400,284.5 418,285 421.3,281.4" fill="none" stroke="#111" stroke-width="2.1" stroke-linejoin="round" stroke-linecap="round" />
<text transform="translate(431.30,286.60) scale(0.86,1)" font-size="10" text-anchor="middle" fill="#111" stroke="#111" stroke-width="0.2">2</text>
<line x1="431.50" y1="290.00" x2="431.50" y2="311.00" stroke="#222" stroke-width="0.9" />
<g fill="#fff" stroke="#111" stroke-width="3.3600000000000003"><ellipse cx="411.50" cy="422.50" rx="16.00" ry="3.80" transform="rotate(-2 411.50 422.50)"/><ellipse cx="411.50" cy="422.00" rx="16.00" ry="3.80" transform="rotate(-2 411.50 422.00)"/><ellipse cx="411.50" cy="421.50" rx="16.00" ry="3.80" transform="rotate(-2 411.50 421.50)"/><ellipse cx="411.50" cy="421.00" rx="16.00" ry="3.80" transform="rotate(-2 411.50 421.00)"/><ellipse cx="411.50" cy="420.50" rx="16.00" ry="3.80" transform="rotate(-2 411.50 420.50)"/><ellipse cx="411.50" cy="420.00" rx="16.00" ry="3.80" transform="rotate(-2 411.50 420.00)"/><ellipse cx="411.50" cy="419.50" rx="16.00" ry="3.80" transform="rotate(-2 411.50 419.50)"/><ellipse cx="411.50" cy="419.00" rx="16.00" ry="3.80" transform="rotate(-2 411.50 419.00)"/><ellipse cx="411.50" cy="418.50" rx="16.00" ry="3.80" transform="rotate(-2 411.50 418.50)"/><ellipse cx="411.50" cy="418.00" rx="16.00" ry="3.80" transform="rotate(-2 411.50 418.00)"/><ellipse cx="411.50" cy="417.50" rx="16.00" ry="3.80" transform="rotate(-2 411.50 417.50)"/><ellipse cx="411.50" cy="417.00" rx="16.00" ry="3.80" transform="rotate(-2 411.50 417.00)"/><ellipse cx="411.50" cy="416.50" rx="16.00" ry="3.80" transform="rotate(-2 411.50 416.50)"/><ellipse cx="411.50" cy="416.00" rx="16.00" ry="3.80" transform="rotate(-2 411.50 416.00)"/><ellipse cx="411.50" cy="415.50" rx="16.00" ry="3.80" transform="rotate(-2 411.50 415.50)"/><ellipse cx="411.50" cy="415.00" rx="16.00" ry="3.80" transform="rotate(-2 411.50 415.00)"/><ellipse cx="411.50" cy="414.50" rx="16.00" ry="3.80" transform="rotate(-2 411.50 414.50)"/><ellipse cx="411.50" cy="414.00" rx="16.00" ry="3.80" transform="rotate(-2 411.50 414.00)"/><ellipse cx="411.50" cy="413.50" rx="16.00" ry="3.80" transform="rotate(-2 411.50 413.50)"/><ellipse cx="411.50" cy="413.00" rx="16.00" ry="3.80" transform="rotate(-2 411.50 413.00)"/><ellipse cx="411.50" cy="412.50" rx="16.00" ry="3.80" transform="rotate(-2 411.50 412.50)"/><ellipse cx="411.50" cy="412.00" rx="16.00" ry="3.80" transform="rotate(-2 411.50 412.00)"/><ellipse cx="411.50" cy="411.50" rx="16.00" ry="3.80" transform="rotate(-2 411.50 411.50)"/><ellipse cx="411.50" cy="411.00" rx="16.00" ry="3.80" transform="rotate(-2 411.50 411.00)"/><ellipse cx="411.50" cy="410.50" rx="16.00" ry="3.80" transform="rotate(-2 411.50 410.50)"/><ellipse cx="411.50" cy="410.00" rx="16.00" ry="3.80" transform="rotate(-2 411.50 410.00)"/><ellipse cx="411.50" cy="409.50" rx="16.00" ry="3.80" transform="rotate(-2 411.50 409.50)"/><ellipse cx="411.50" cy="409.00" rx="16.00" ry="3.80" transform="rotate(-2 411.50 409.00)"/><ellipse cx="411.50" cy="408.50" rx="16.00" ry="3.80" transform="rotate(-2 411.50 408.50)"/><ellipse cx="411.50" cy="408.00" rx="16.00" ry="3.80" transform="rotate(-2 411.50 408.00)"/><ellipse cx="411.50" cy="407.50" rx="16.00" ry="3.80" transform="rotate(-2 411.50 407.50)"/><ellipse cx="411.50" cy="407.00" rx="16.00" ry="3.80" transform="rotate(-2 411.50 407.00)"/><ellipse cx="411.50" cy="406.50" rx="16.00" ry="3.80" transform="rotate(-2 411.50 406.50)"/><ellipse cx="411.50" cy="406.00" rx="16.00" ry="3.80" transform="rotate(-2 411.50 406.00)"/><ellipse cx="411.50" cy="405.50" rx="16.00" ry="3.80" transform="rotate(-2 411.50 405.50)"/><ellipse cx="411.50" cy="405.00" rx="16.00" ry="3.80" transform="rotate(-2 411.50 405.00)"/><ellipse cx="411.50" cy="404.50" rx="16.00" ry="3.80" transform="rotate(-2 411.50 404.50)"/><ellipse cx="411.50" cy="404.00" rx="16.00" ry="3.80" transform="rotate(-2 411.50 404.00)"/><ellipse cx="411.50" cy="403.50" rx="16.00" ry="3.80" transform="rotate(-2 411.50 403.50)"/><ellipse cx="411.50" cy="403.00" rx="16.00" ry="3.80" transform="rotate(-2 411.50 403.00)"/><ellipse cx="411.50" cy="402.50" rx="16.00" ry="3.80" transform="rotate(-2 411.50 402.50)"/><ellipse cx="411.50" cy="402.00" rx="16.00" ry="3.80" transform="rotate(-2 411.50 402.00)"/><ellipse cx="411.50" cy="401.50" rx="16.00" ry="3.80" transform="rotate(-2 411.50 401.50)"/><ellipse cx="411.50" cy="401.00" rx="16.00" ry="3.80" transform="rotate(-2 411.50 401.00)"/><ellipse cx="411.50" cy="400.50" rx="16.00" ry="3.80" transform="rotate(-2 411.50 400.50)"/><ellipse cx="411.50" cy="400.00" rx="16.00" ry="3.80" transform="rotate(-2 411.50 400.00)"/><ellipse cx="411.50" cy="399.50" rx="16.00" ry="3.80" transform="rotate(-2 411.50 399.50)"/><ellipse cx="411.50" cy="399.00" rx="16.00" ry="3.80" transform="rotate(-2 411.50 399.00)"/><ellipse cx="411.50" cy="398.50" rx="16.00" ry="3.80" transform="rotate(-2 411.50 398.50)"/><ellipse cx="411.50" cy="398.00" rx="16.00" ry="3.80" transform="rotate(-2 411.50 398.00)"/></g>
<g fill="#fff" stroke="none"><ellipse cx="411.50" cy="422.50" rx="16.00" ry="3.80" transform="rotate(-2 411.50 422.50)"/><ellipse cx="411.50" cy="422.00" rx="16.00" ry="3.80" transform="rotate(-2 411.50 422.00)"/><ellipse cx="411.50" cy="421.50" rx="16.00" ry="3.80" transform="rotate(-2 411.50 421.50)"/><ellipse cx="411.50" cy="421.00" rx="16.00" ry="3.80" transform="rotate(-2 411.50 421.00)"/><ellipse cx="411.50" cy="420.50" rx="16.00" ry="3.80" transform="rotate(-2 411.50 420.50)"/><ellipse cx="411.50" cy="420.00" rx="16.00" ry="3.80" transform="rotate(-2 411.50 420.00)"/><ellipse cx="411.50" cy="419.50" rx="16.00" ry="3.80" transform="rotate(-2 411.50 419.50)"/><ellipse cx="411.50" cy="419.00" rx="16.00" ry="3.80" transform="rotate(-2 411.50 419.00)"/><ellipse cx="411.50" cy="418.50" rx="16.00" ry="3.80" transform="rotate(-2 411.50 418.50)"/><ellipse cx="411.50" cy="418.00" rx="16.00" ry="3.80" transform="rotate(-2 411.50 418.00)"/><ellipse cx="411.50" cy="417.50" rx="16.00" ry="3.80" transform="rotate(-2 411.50 417.50)"/><ellipse cx="411.50" cy="417.00" rx="16.00" ry="3.80" transform="rotate(-2 411.50 417.00)"/><ellipse cx="411.50" cy="416.50" rx="16.00" ry="3.80" transform="rotate(-2 411.50 416.50)"/><ellipse cx="411.50" cy="416.00" rx="16.00" ry="3.80" transform="rotate(-2 411.50 416.00)"/><ellipse cx="411.50" cy="415.50" rx="16.00" ry="3.80" transform="rotate(-2 411.50 415.50)"/><ellipse cx="411.50" cy="415.00" rx="16.00" ry="3.80" transform="rotate(-2 411.50 415.00)"/><ellipse cx="411.50" cy="414.50" rx="16.00" ry="3.80" transform="rotate(-2 411.50 414.50)"/><ellipse cx="411.50" cy="414.00" rx="16.00" ry="3.80" transform="rotate(-2 411.50 414.00)"/><ellipse cx="411.50" cy="413.50" rx="16.00" ry="3.80" transform="rotate(-2 411.50 413.50)"/><ellipse cx="411.50" cy="413.00" rx="16.00" ry="3.80" transform="rotate(-2 411.50 413.00)"/><ellipse cx="411.50" cy="412.50" rx="16.00" ry="3.80" transform="rotate(-2 411.50 412.50)"/><ellipse cx="411.50" cy="412.00" rx="16.00" ry="3.80" transform="rotate(-2 411.50 412.00)"/><ellipse cx="411.50" cy="411.50" rx="16.00" ry="3.80" transform="rotate(-2 411.50 411.50)"/><ellipse cx="411.50" cy="411.00" rx="16.00" ry="3.80" transform="rotate(-2 411.50 411.00)"/><ellipse cx="411.50" cy="410.50" rx="16.00" ry="3.80" transform="rotate(-2 411.50 410.50)"/><ellipse cx="411.50" cy="410.00" rx="16.00" ry="3.80" transform="rotate(-2 411.50 410.00)"/><ellipse cx="411.50" cy="409.50" rx="16.00" ry="3.80" transform="rotate(-2 411.50 409.50)"/><ellipse cx="411.50" cy="409.00" rx="16.00" ry="3.80" transform="rotate(-2 411.50 409.00)"/><ellipse cx="411.50" cy="408.50" rx="16.00" ry="3.80" transform="rotate(-2 411.50 408.50)"/><ellipse cx="411.50" cy="408.00" rx="16.00" ry="3.80" transform="rotate(-2 411.50 408.00)"/><ellipse cx="411.50" cy="407.50" rx="16.00" ry="3.80" transform="rotate(-2 411.50 407.50)"/><ellipse cx="411.50" cy="407.00" rx="16.00" ry="3.80" transform="rotate(-2 411.50 407.00)"/><ellipse cx="411.50" cy="406.50" rx="16.00" ry="3.80" transform="rotate(-2 411.50 406.50)"/><ellipse cx="411.50" cy="406.00" rx="16.00" ry="3.80" transform="rotate(-2 411.50 406.00)"/><ellipse cx="411.50" cy="405.50" rx="16.00" ry="3.80" transform="rotate(-2 411.50 405.50)"/><ellipse cx="411.50" cy="405.00" rx="16.00" ry="3.80" transform="rotate(-2 411.50 405.00)"/><ellipse cx="411.50" cy="404.50" rx="16.00" ry="3.80" transform="rotate(-2 411.50 404.50)"/><ellipse cx="411.50" cy="404.00" rx="16.00" ry="3.80" transform="rotate(-2 411.50 404.00)"/><ellipse cx="411.50" cy="403.50" rx="16.00" ry="3.80" transform="rotate(-2 411.50 403.50)"/><ellipse cx="411.50" cy="403.00" rx="16.00" ry="3.80" transform="rotate(-2 411.50 403.00)"/><ellipse cx="411.50" cy="402.50" rx="16.00" ry="3.80" transform="rotate(-2 411.50 402.50)"/><ellipse cx="411.50" cy="402.00" rx="16.00" ry="3.80" transform="rotate(-2 411.50 402.00)"/><ellipse cx="411.50" cy="401.50" rx="16.00" ry="3.80" transform="rotate(-2 411.50 401.50)"/><ellipse cx="411.50" cy="401.00" rx="16.00" ry="3.80" transform="rotate(-2 411.50 401.00)"/><ellipse cx="411.50" cy="400.50" rx="16.00" ry="3.80" transform="rotate(-2 411.50 400.50)"/><ellipse cx="411.50" cy="400.00" rx="16.00" ry="3.80" transform="rotate(-2 411.50 400.00)"/><ellipse cx="411.50" cy="399.50" rx="16.00" ry="3.80" transform="rotate(-2 411.50 399.50)"/><ellipse cx="411.50" cy="399.00" rx="16.00" ry="3.80" transform="rotate(-2 411.50 399.00)"/><ellipse cx="411.50" cy="398.50" rx="16.00" ry="3.80" transform="rotate(-2 411.50 398.50)"/><ellipse cx="411.50" cy="398.00" rx="16.00" ry="3.80" transform="rotate(-2 411.50 398.00)"/></g>
<g fill="#fff" stroke="#111" stroke-width="3.3600000000000003"><ellipse cx="411.50" cy="424.50" rx="17.00" ry="3.90" transform="rotate(-2 411.50 424.50)"/><ellipse cx="411.50" cy="424.07" rx="17.00" ry="3.90" transform="rotate(-2 411.50 424.07)"/><ellipse cx="411.50" cy="423.64" rx="17.00" ry="3.90" transform="rotate(-2 411.50 423.64)"/><ellipse cx="411.50" cy="423.21" rx="17.00" ry="3.90" transform="rotate(-2 411.50 423.21)"/><ellipse cx="411.50" cy="422.79" rx="17.00" ry="3.90" transform="rotate(-2 411.50 422.79)"/><ellipse cx="411.50" cy="422.36" rx="17.00" ry="3.90" transform="rotate(-2 411.50 422.36)"/><ellipse cx="411.50" cy="421.93" rx="17.00" ry="3.90" transform="rotate(-2 411.50 421.93)"/><ellipse cx="411.50" cy="421.50" rx="17.00" ry="3.90" transform="rotate(-2 411.50 421.50)"/></g>
<g fill="#fff" stroke="none"><ellipse cx="411.50" cy="424.50" rx="17.00" ry="3.90" transform="rotate(-2 411.50 424.50)"/><ellipse cx="411.50" cy="424.07" rx="17.00" ry="3.90" transform="rotate(-2 411.50 424.07)"/><ellipse cx="411.50" cy="423.64" rx="17.00" ry="3.90" transform="rotate(-2 411.50 423.64)"/><ellipse cx="411.50" cy="423.21" rx="17.00" ry="3.90" transform="rotate(-2 411.50 423.21)"/><ellipse cx="411.50" cy="422.79" rx="17.00" ry="3.90" transform="rotate(-2 411.50 422.79)"/><ellipse cx="411.50" cy="422.36" rx="17.00" ry="3.90" transform="rotate(-2 411.50 422.36)"/><ellipse cx="411.50" cy="421.93" rx="17.00" ry="3.90" transform="rotate(-2 411.50 421.93)"/><ellipse cx="411.50" cy="421.50" rx="17.00" ry="3.90" transform="rotate(-2 411.50 421.50)"/></g>
<path d="M395.5,422.5 C398,419.5 424,418.5 427.5,421.5" fill="none" stroke="#555" stroke-width="0.8" stroke-linejoin="round" stroke-linecap="round" />
<g fill="#fff" stroke="#111" stroke-width="3.7800000000000002"><ellipse cx="390.80" cy="359.80" rx="27.70" ry="52.26" transform="rotate(-15.75 390.80 359.80)"/><ellipse cx="390.27" cy="359.90" rx="27.70" ry="52.26" transform="rotate(-15.75 390.27 359.90)"/><ellipse cx="389.73" cy="360.00" rx="27.70" ry="52.26" transform="rotate(-15.75 389.73 360.00)"/><ellipse cx="389.20" cy="360.10" rx="27.70" ry="52.26" transform="rotate(-15.75 389.20 360.10)"/><ellipse cx="388.67" cy="360.20" rx="27.70" ry="52.26" transform="rotate(-15.75 388.67 360.20)"/><ellipse cx="388.13" cy="360.30" rx="27.70" ry="52.26" transform="rotate(-15.75 388.13 360.30)"/><ellipse cx="387.60" cy="360.40" rx="27.70" ry="52.26" transform="rotate(-15.75 387.60 360.40)"/></g>
<g fill="#fff" stroke="none"><ellipse cx="390.80" cy="359.80" rx="27.70" ry="52.26" transform="rotate(-15.75 390.80 359.80)"/><ellipse cx="390.27" cy="359.90" rx="27.70" ry="52.26" transform="rotate(-15.75 390.27 359.90)"/><ellipse cx="389.73" cy="360.00" rx="27.70" ry="52.26" transform="rotate(-15.75 389.73 360.00)"/><ellipse cx="389.20" cy="360.10" rx="27.70" ry="52.26" transform="rotate(-15.75 389.20 360.10)"/><ellipse cx="388.67" cy="360.20" rx="27.70" ry="52.26" transform="rotate(-15.75 388.67 360.20)"/><ellipse cx="388.13" cy="360.30" rx="27.70" ry="52.26" transform="rotate(-15.75 388.13 360.30)"/><ellipse cx="387.60" cy="360.40" rx="27.70" ry="52.26" transform="rotate(-15.75 387.60 360.40)"/></g>
<ellipse cx="387.60" cy="360.40" rx="28.14" ry="52.70" transform="rotate(-15.75 387.60 360.40)" fill="none" stroke="#111" stroke-width="1.0" />
<ellipse cx="388.30" cy="361.00" rx="22.50" ry="46.80" transform="rotate(-19 388.30 361.00)" fill="none" stroke="#111" stroke-width="0.9" />
<path d="M370.8,323.7 C374,320.5 379,319.6 383,320.3 C390,322 396,329 401,340 C405,349 408,360 410,370 C411,378 410,385 407.5,388.5 C405,392 402,395 399.6,396.3 C402,391.5 404.8,386 405.6,380.5 C406.2,374 404,366 401.5,359 C399.5,352 398.5,346 396.5,340 C393.5,332 388,327 382,325 C378,324.2 374,324.5 370.8,323.7 Z" fill="#111" stroke="#111" stroke-width="1.0" stroke-linejoin="round" stroke-linecap="round" />
<path d="M366,331 C364.5,350 367,372 376,389 C380,395 385,398.5 389,399" fill="none" stroke="#999" stroke-width="0.7" stroke-linejoin="round" stroke-linecap="round" />
<ellipse cx="372.20" cy="315.10" rx="1.1" ry="1.7" fill="#fff" stroke="#111" stroke-width="1.3"/>
<ellipse cx="361.10" cy="342.30" rx="1.1" ry="1.7" fill="#fff" stroke="#111" stroke-width="1.3"/>
<ellipse cx="404.40" cy="339.30" rx="1.1" ry="1.7" fill="#fff" stroke="#111" stroke-width="1.3"/>
<ellipse cx="369.10" cy="378.60" rx="1.1" ry="1.7" fill="#fff" stroke="#111" stroke-width="1.3"/>
<ellipse cx="412.40" cy="380.60" rx="1.1" ry="1.7" fill="#fff" stroke="#111" stroke-width="1.3"/>
<ellipse cx="398.30" cy="404.80" rx="1.1" ry="1.7" fill="#fff" stroke="#111" stroke-width="1.3"/>
<line x1="221.9" y1="496.9" x2="221.9" y2="570.5" stroke="#111" stroke-width="2.5" stroke-dasharray="6 2.5 17 2.5 20 2.5 22"/>
<line x1="221.90" y1="570.30" x2="435.80" y2="504.00" stroke="#222" stroke-width="0.9" />
<text transform="translate(249.50,535.90) scale(0.86,1)" font-size="10" text-anchor="middle" fill="#111" stroke="#111" stroke-width="0.2">12</text>
<line x1="249.50" y1="538.40" x2="249.50" y2="545.30" stroke="#222" stroke-width="0.9" />
<ellipse cx="256.40" cy="562.00" rx="10.30" ry="17.80" transform="rotate(-16 256.40 562.00)" fill="none" stroke="#111" stroke-width="1.5750000000000002" />
<ellipse cx="256.40" cy="562.00" rx="8.00" ry="15.30" transform="rotate(-16 256.40 562.00)" fill="none" stroke="#111" stroke-width="1.3650000000000002" />
<text transform="translate(278.90,519.50) scale(0.86,1)" font-size="10" text-anchor="middle" fill="#111" stroke="#111" stroke-width="0.2">15</text>
<line x1="279.00" y1="522.00" x2="279.00" y2="536.60" stroke="#222" stroke-width="0.9" />
<ellipse cx="278.00" cy="555.00" rx="11.20" ry="18.00" transform="rotate(-12 278.00 555.00)" fill="#fff" stroke="#111" stroke-width="1.5750000000000002" />
<ellipse cx="278.40" cy="555.40" rx="5.60" ry="10.80" transform="rotate(-12 278.40 555.40)" fill="#fff" stroke="#111" stroke-width="1.47" />
<path d="M266.3,550 L269.2,563.5" fill="none" stroke="#111" stroke-width="0.9" stroke-linejoin="round" stroke-linecap="round" />
<path d="M269.0,549.8 L272.0,563.5" fill="none" stroke="#111" stroke-width="0.9" stroke-linejoin="round" stroke-linecap="round" />
<path d="M264.56,549.59 L269.56,550.19 A2.0,2.0 0 0 0 270.04,546.21 L265.04,545.61 A2.0,2.0 0 0 0 264.56,549.59 Z" fill="#fff" stroke="#111" stroke-width="1.3650000000000002" stroke-linejoin="round" stroke-linecap="round" />
<path d="M277.34,550.58 L281.94,551.18 A2.0,2.0 0 0 0 282.46,547.22 L277.86,546.62 A2.0,2.0 0 0 0 277.34,550.58 Z" fill="#fff" stroke="#111" stroke-width="1.3650000000000002" stroke-linejoin="round" stroke-linecap="round" />
<path d="M269.02,567.19 L273.42,567.59 A2.0,2.0 0 0 0 273.78,563.61 L269.38,563.21 A2.0,2.0 0 0 0 269.02,567.19 Z" fill="#fff" stroke="#111" stroke-width="1.3650000000000002" stroke-linejoin="round" stroke-linecap="round" />
<path d="M281.16,569.29 L285.36,569.79 A2.0,2.0 0 0 0 285.84,565.81 L281.64,565.31 A2.0,2.0 0 0 0 281.16,569.29 Z" fill="#fff" stroke="#111" stroke-width="1.3650000000000002" stroke-linejoin="round" stroke-linecap="round" />
<text transform="translate(309.10,510.90) scale(0.86,1)" font-size="10" text-anchor="middle" fill="#111" stroke="#111" stroke-width="0.2">11</text>
<line x1="309.00" y1="514.00" x2="309.00" y2="525.40" stroke="#222" stroke-width="0.9" />
<g fill="#fff" stroke="#111" stroke-width="3.3600000000000003"><ellipse cx="317.60" cy="540.60" rx="9.80" ry="17.60" transform="rotate(-12 317.60 540.60)"/><ellipse cx="317.10" cy="540.74" rx="9.80" ry="17.60" transform="rotate(-12 317.10 540.74)"/><ellipse cx="316.60" cy="540.88" rx="9.80" ry="17.60" transform="rotate(-12 316.60 540.88)"/><ellipse cx="316.10" cy="541.02" rx="9.80" ry="17.60" transform="rotate(-12 316.10 541.02)"/><ellipse cx="315.60" cy="541.16" rx="9.80" ry="17.60" transform="rotate(-12 315.60 541.16)"/><ellipse cx="315.10" cy="541.30" rx="9.80" ry="17.60" transform="rotate(-12 315.10 541.30)"/><ellipse cx="314.60" cy="541.44" rx="9.80" ry="17.60" transform="rotate(-12 314.60 541.44)"/><ellipse cx="314.10" cy="541.58" rx="9.80" ry="17.60" transform="rotate(-12 314.10 541.58)"/><ellipse cx="313.60" cy="541.72" rx="9.80" ry="17.60" transform="rotate(-12 313.60 541.72)"/><ellipse cx="313.10" cy="541.86" rx="9.80" ry="17.60" transform="rotate(-12 313.10 541.86)"/><ellipse cx="312.60" cy="542.00" rx="9.80" ry="17.60" transform="rotate(-12 312.60 542.00)"/><ellipse cx="312.10" cy="542.14" rx="9.80" ry="17.60" transform="rotate(-12 312.10 542.14)"/><ellipse cx="311.60" cy="542.28" rx="9.80" ry="17.60" transform="rotate(-12 311.60 542.28)"/><ellipse cx="311.10" cy="542.42" rx="9.80" ry="17.60" transform="rotate(-12 311.10 542.42)"/><ellipse cx="310.60" cy="542.56" rx="9.80" ry="17.60" transform="rotate(-12 310.60 542.56)"/><ellipse cx="310.10" cy="542.70" rx="9.80" ry="17.60" transform="rotate(-12 310.10 542.70)"/><ellipse cx="309.60" cy="542.84" rx="9.80" ry="17.60" transform="rotate(-12 309.60 542.84)"/><ellipse cx="309.10" cy="542.98" rx="9.80" ry="17.60" transform="rotate(-12 309.10 542.98)"/><ellipse cx="308.60" cy="543.12" rx="9.80" ry="17.60" transform="rotate(-12 308.60 543.12)"/><ellipse cx="308.10" cy="543.26" rx="9.80" ry="17.60" transform="rotate(-12 308.10 543.26)"/><ellipse cx="307.60" cy="543.40" rx="9.80" ry="17.60" transform="rotate(-12 307.60 543.40)"/></g>
<g fill="#fff" stroke="none"><ellipse cx="317.60" cy="540.60" rx="9.80" ry="17.60" transform="rotate(-12 317.60 540.60)"/><ellipse cx="317.10" cy="540.74" rx="9.80" ry="17.60" transform="rotate(-12 317.10 540.74)"/><ellipse cx="316.60" cy="540.88" rx="9.80" ry="17.60" transform="rotate(-12 316.60 540.88)"/><ellipse cx="316.10" cy="541.02" rx="9.80" ry="17.60" transform="rotate(-12 316.10 541.02)"/><ellipse cx="315.60" cy="541.16" rx="9.80" ry="17.60" transform="rotate(-12 315.60 541.16)"/><ellipse cx="315.10" cy="541.30" rx="9.80" ry="17.60" transform="rotate(-12 315.10 541.30)"/><ellipse cx="314.60" cy="541.44" rx="9.80" ry="17.60" transform="rotate(-12 314.60 541.44)"/><ellipse cx="314.10" cy="541.58" rx="9.80" ry="17.60" transform="rotate(-12 314.10 541.58)"/><ellipse cx="313.60" cy="541.72" rx="9.80" ry="17.60" transform="rotate(-12 313.60 541.72)"/><ellipse cx="313.10" cy="541.86" rx="9.80" ry="17.60" transform="rotate(-12 313.10 541.86)"/><ellipse cx="312.60" cy="542.00" rx="9.80" ry="17.60" transform="rotate(-12 312.60 542.00)"/><ellipse cx="312.10" cy="542.14" rx="9.80" ry="17.60" transform="rotate(-12 312.10 542.14)"/><ellipse cx="311.60" cy="542.28" rx="9.80" ry="17.60" transform="rotate(-12 311.60 542.28)"/><ellipse cx="311.10" cy="542.42" rx="9.80" ry="17.60" transform="rotate(-12 311.10 542.42)"/><ellipse cx="310.60" cy="542.56" rx="9.80" ry="17.60" transform="rotate(-12 310.60 542.56)"/><ellipse cx="310.10" cy="542.70" rx="9.80" ry="17.60" transform="rotate(-12 310.10 542.70)"/><ellipse cx="309.60" cy="542.84" rx="9.80" ry="17.60" transform="rotate(-12 309.60 542.84)"/><ellipse cx="309.10" cy="542.98" rx="9.80" ry="17.60" transform="rotate(-12 309.10 542.98)"/><ellipse cx="308.60" cy="543.12" rx="9.80" ry="17.60" transform="rotate(-12 308.60 543.12)"/><ellipse cx="308.10" cy="543.26" rx="9.80" ry="17.60" transform="rotate(-12 308.10 543.26)"/><ellipse cx="307.60" cy="543.40" rx="9.80" ry="17.60" transform="rotate(-12 307.60 543.40)"/></g>
<ellipse cx="307.60" cy="543.40" rx="10.64" ry="18.44" transform="rotate(-12 307.60 543.40)" fill="none" stroke="#111" stroke-width="1.6800000000000002" />
<ellipse cx="308.40" cy="544.90" rx="6.00" ry="11.60" transform="rotate(-12 308.40 544.90)" fill="#fff" stroke="#111" stroke-width="1.5750000000000002" />
<text transform="translate(375.30,481.90) scale(0.86,1)" font-size="10" text-anchor="middle" fill="#111" stroke="#111" stroke-width="0.2">13</text>
<path d="M354.2,505.5 L354.2,494 L395.5,482.3 L395.5,495.4" fill="none" stroke="#111" stroke-width="1.0" stroke-linejoin="round" stroke-linecap="round" />
<line x1="375.30" y1="484.00" x2="375.30" y2="488.50" stroke="#222" stroke-width="0.9" />
<g fill="#fff" stroke="#111" stroke-width="3.3600000000000003"><ellipse cx="366.20" cy="526.30" rx="12.80" ry="22.30" transform="rotate(-12 366.20 526.30)"/><ellipse cx="365.70" cy="526.42" rx="12.80" ry="22.30" transform="rotate(-12 365.70 526.42)"/><ellipse cx="365.20" cy="526.55" rx="12.80" ry="22.30" transform="rotate(-12 365.20 526.55)"/><ellipse cx="364.70" cy="526.67" rx="12.80" ry="22.30" transform="rotate(-12 364.70 526.67)"/><ellipse cx="364.20" cy="526.80" rx="12.80" ry="22.30" transform="rotate(-12 364.20 526.80)"/><ellipse cx="363.70" cy="526.92" rx="12.80" ry="22.30" transform="rotate(-12 363.70 526.92)"/><ellipse cx="363.20" cy="527.05" rx="12.80" ry="22.30" transform="rotate(-12 363.20 527.05)"/><ellipse cx="362.70" cy="527.17" rx="12.80" ry="22.30" transform="rotate(-12 362.70 527.17)"/><ellipse cx="362.20" cy="527.30" rx="12.80" ry="22.30" transform="rotate(-12 362.20 527.30)"/><ellipse cx="361.70" cy="527.42" rx="12.80" ry="22.30" transform="rotate(-12 361.70 527.42)"/><ellipse cx="361.20" cy="527.55" rx="12.80" ry="22.30" transform="rotate(-12 361.20 527.55)"/><ellipse cx="360.70" cy="527.67" rx="12.80" ry="22.30" transform="rotate(-12 360.70 527.67)"/><ellipse cx="360.20" cy="527.80" rx="12.80" ry="22.30" transform="rotate(-12 360.20 527.80)"/><ellipse cx="359.70" cy="527.92" rx="12.80" ry="22.30" transform="rotate(-12 359.70 527.92)"/><ellipse cx="359.20" cy="528.05" rx="12.80" ry="22.30" transform="rotate(-12 359.20 528.05)"/><ellipse cx="358.70" cy="528.17" rx="12.80" ry="22.30" transform="rotate(-12 358.70 528.17)"/><ellipse cx="358.20" cy="528.30" rx="12.80" ry="22.30" transform="rotate(-12 358.20 528.30)"/><ellipse cx="357.70" cy="528.42" rx="12.80" ry="22.30" transform="rotate(-12 357.70 528.42)"/><ellipse cx="357.20" cy="528.55" rx="12.80" ry="22.30" transform="rotate(-12 357.20 528.55)"/><ellipse cx="356.70" cy="528.67" rx="12.80" ry="22.30" transform="rotate(-12 356.70 528.67)"/><ellipse cx="356.20" cy="528.80" rx="12.80" ry="22.30" transform="rotate(-12 356.20 528.80)"/><ellipse cx="355.70" cy="528.92" rx="12.80" ry="22.30" transform="rotate(-12 355.70 528.92)"/><ellipse cx="355.20" cy="529.05" rx="12.80" ry="22.30" transform="rotate(-12 355.20 529.05)"/><ellipse cx="354.70" cy="529.17" rx="12.80" ry="22.30" transform="rotate(-12 354.70 529.17)"/><ellipse cx="354.20" cy="529.30" rx="12.80" ry="22.30" transform="rotate(-12 354.20 529.30)"/></g>
<g fill="#fff" stroke="none"><ellipse cx="366.20" cy="526.30" rx="12.80" ry="22.30" transform="rotate(-12 366.20 526.30)"/><ellipse cx="365.70" cy="526.42" rx="12.80" ry="22.30" transform="rotate(-12 365.70 526.42)"/><ellipse cx="365.20" cy="526.55" rx="12.80" ry="22.30" transform="rotate(-12 365.20 526.55)"/><ellipse cx="364.70" cy="526.67" rx="12.80" ry="22.30" transform="rotate(-12 364.70 526.67)"/><ellipse cx="364.20" cy="526.80" rx="12.80" ry="22.30" transform="rotate(-12 364.20 526.80)"/><ellipse cx="363.70" cy="526.92" rx="12.80" ry="22.30" transform="rotate(-12 363.70 526.92)"/><ellipse cx="363.20" cy="527.05" rx="12.80" ry="22.30" transform="rotate(-12 363.20 527.05)"/><ellipse cx="362.70" cy="527.17" rx="12.80" ry="22.30" transform="rotate(-12 362.70 527.17)"/><ellipse cx="362.20" cy="527.30" rx="12.80" ry="22.30" transform="rotate(-12 362.20 527.30)"/><ellipse cx="361.70" cy="527.42" rx="12.80" ry="22.30" transform="rotate(-12 361.70 527.42)"/><ellipse cx="361.20" cy="527.55" rx="12.80" ry="22.30" transform="rotate(-12 361.20 527.55)"/><ellipse cx="360.70" cy="527.67" rx="12.80" ry="22.30" transform="rotate(-12 360.70 527.67)"/><ellipse cx="360.20" cy="527.80" rx="12.80" ry="22.30" transform="rotate(-12 360.20 527.80)"/><ellipse cx="359.70" cy="527.92" rx="12.80" ry="22.30" transform="rotate(-12 359.70 527.92)"/><ellipse cx="359.20" cy="528.05" rx="12.80" ry="22.30" transform="rotate(-12 359.20 528.05)"/><ellipse cx="358.70" cy="528.17" rx="12.80" ry="22.30" transform="rotate(-12 358.70 528.17)"/><ellipse cx="358.20" cy="528.30" rx="12.80" ry="22.30" transform="rotate(-12 358.20 528.30)"/><ellipse cx="357.70" cy="528.42" rx="12.80" ry="22.30" transform="rotate(-12 357.70 528.42)"/><ellipse cx="357.20" cy="528.55" rx="12.80" ry="22.30" transform="rotate(-12 357.20 528.55)"/><ellipse cx="356.70" cy="528.67" rx="12.80" ry="22.30" transform="rotate(-12 356.70 528.67)"/><ellipse cx="356.20" cy="528.80" rx="12.80" ry="22.30" transform="rotate(-12 356.20 528.80)"/><ellipse cx="355.70" cy="528.92" rx="12.80" ry="22.30" transform="rotate(-12 355.70 528.92)"/><ellipse cx="355.20" cy="529.05" rx="12.80" ry="22.30" transform="rotate(-12 355.20 529.05)"/><ellipse cx="354.70" cy="529.17" rx="12.80" ry="22.30" transform="rotate(-12 354.70 529.17)"/><ellipse cx="354.20" cy="529.30" rx="12.80" ry="22.30" transform="rotate(-12 354.20 529.30)"/></g>
<ellipse cx="354.20" cy="529.30" rx="13.64" ry="23.14" transform="rotate(-12 354.20 529.30)" fill="none" stroke="#111" stroke-width="1.6800000000000002" />
<ellipse cx="354.70" cy="529.30" rx="10.70" ry="19.40" transform="rotate(-12 354.70 529.30)" fill="#fff" stroke="#111" stroke-width="0.9" />
<circle cx="364.00" cy="529.30" r="1.5" fill="#fff" stroke="#333" stroke-width="0.8"/>
<circle cx="362.57" cy="538.38" r="1.5" fill="#fff" stroke="#333" stroke-width="0.8"/>
<circle cx="358.74" cy="544.58" r="1.5" fill="#fff" stroke="#333" stroke-width="0.8"/>
<circle cx="353.72" cy="545.93" r="1.5" fill="#fff" stroke="#333" stroke-width="0.8"/>
<circle cx="349.11" cy="542.00" r="1.5" fill="#fff" stroke="#333" stroke-width="0.8"/>
<circle cx="346.36" cy="534.03" r="1.5" fill="#fff" stroke="#333" stroke-width="0.8"/>
<circle cx="346.36" cy="524.57" r="1.5" fill="#fff" stroke="#333" stroke-width="0.8"/>
<circle cx="349.11" cy="516.60" r="1.5" fill="#fff" stroke="#333" stroke-width="0.8"/>
<circle cx="353.72" cy="512.67" r="1.5" fill="#fff" stroke="#333" stroke-width="0.8"/>
<circle cx="358.74" cy="514.02" r="1.5" fill="#fff" stroke="#333" stroke-width="0.8"/>
<circle cx="362.57" cy="520.22" r="1.5" fill="#fff" stroke="#333" stroke-width="0.8"/>
<ellipse cx="355.20" cy="529.30" rx="7.60" ry="14.20" transform="rotate(-12 355.20 529.30)" fill="#fff" stroke="#111" stroke-width="1.1" />
<ellipse cx="355.40" cy="529.30" rx="6.60" ry="12.00" transform="rotate(-12 355.40 529.30)" fill="#fff" stroke="#111" stroke-width="1.26" />
<g fill="#fff" stroke="#111" stroke-width="3.3600000000000003"><ellipse cx="403.30" cy="514.50" rx="12.29" ry="21.41" transform="rotate(-12 403.30 514.50)"/><ellipse cx="402.80" cy="514.61" rx="12.29" ry="21.41" transform="rotate(-12 402.80 514.61)"/><ellipse cx="402.30" cy="514.72" rx="12.29" ry="21.41" transform="rotate(-12 402.30 514.72)"/><ellipse cx="401.80" cy="514.83" rx="12.29" ry="21.41" transform="rotate(-12 401.80 514.83)"/><ellipse cx="401.30" cy="514.93" rx="12.29" ry="21.41" transform="rotate(-12 401.30 514.93)"/><ellipse cx="400.80" cy="515.04" rx="12.29" ry="21.41" transform="rotate(-12 400.80 515.04)"/><ellipse cx="400.30" cy="515.15" rx="12.29" ry="21.41" transform="rotate(-12 400.30 515.15)"/><ellipse cx="399.80" cy="515.26" rx="12.29" ry="21.41" transform="rotate(-12 399.80 515.26)"/><ellipse cx="399.30" cy="515.37" rx="12.29" ry="21.41" transform="rotate(-12 399.30 515.37)"/><ellipse cx="398.80" cy="515.48" rx="12.29" ry="21.41" transform="rotate(-12 398.80 515.48)"/><ellipse cx="398.30" cy="515.59" rx="12.29" ry="21.41" transform="rotate(-12 398.30 515.59)"/><ellipse cx="397.80" cy="515.70" rx="12.29" ry="21.41" transform="rotate(-12 397.80 515.70)"/><ellipse cx="397.30" cy="515.80" rx="12.29" ry="21.41" transform="rotate(-12 397.30 515.80)"/><ellipse cx="396.80" cy="515.91" rx="12.29" ry="21.41" transform="rotate(-12 396.80 515.91)"/><ellipse cx="396.30" cy="516.02" rx="12.29" ry="21.41" transform="rotate(-12 396.30 516.02)"/><ellipse cx="395.80" cy="516.13" rx="12.29" ry="21.41" transform="rotate(-12 395.80 516.13)"/><ellipse cx="395.30" cy="516.24" rx="12.29" ry="21.41" transform="rotate(-12 395.30 516.24)"/><ellipse cx="394.80" cy="516.35" rx="12.29" ry="21.41" transform="rotate(-12 394.80 516.35)"/><ellipse cx="394.30" cy="516.46" rx="12.29" ry="21.41" transform="rotate(-12 394.30 516.46)"/><ellipse cx="393.80" cy="516.57" rx="12.29" ry="21.41" transform="rotate(-12 393.80 516.57)"/><ellipse cx="393.30" cy="516.67" rx="12.29" ry="21.41" transform="rotate(-12 393.30 516.67)"/><ellipse cx="392.80" cy="516.78" rx="12.29" ry="21.41" transform="rotate(-12 392.80 516.78)"/><ellipse cx="392.30" cy="516.89" rx="12.29" ry="21.41" transform="rotate(-12 392.30 516.89)"/><ellipse cx="391.80" cy="517.00" rx="12.29" ry="21.41" transform="rotate(-12 391.80 517.00)"/></g>
<g fill="#fff" stroke="none"><ellipse cx="403.30" cy="514.50" rx="12.29" ry="21.41" transform="rotate(-12 403.30 514.50)"/><ellipse cx="402.80" cy="514.61" rx="12.29" ry="21.41" transform="rotate(-12 402.80 514.61)"/><ellipse cx="402.30" cy="514.72" rx="12.29" ry="21.41" transform="rotate(-12 402.30 514.72)"/><ellipse cx="401.80" cy="514.83" rx="12.29" ry="21.41" transform="rotate(-12 401.80 514.83)"/><ellipse cx="401.30" cy="514.93" rx="12.29" ry="21.41" transform="rotate(-12 401.30 514.93)"/><ellipse cx="400.80" cy="515.04" rx="12.29" ry="21.41" transform="rotate(-12 400.80 515.04)"/><ellipse cx="400.30" cy="515.15" rx="12.29" ry="21.41" transform="rotate(-12 400.30 515.15)"/><ellipse cx="399.80" cy="515.26" rx="12.29" ry="21.41" transform="rotate(-12 399.80 515.26)"/><ellipse cx="399.30" cy="515.37" rx="12.29" ry="21.41" transform="rotate(-12 399.30 515.37)"/><ellipse cx="398.80" cy="515.48" rx="12.29" ry="21.41" transform="rotate(-12 398.80 515.48)"/><ellipse cx="398.30" cy="515.59" rx="12.29" ry="21.41" transform="rotate(-12 398.30 515.59)"/><ellipse cx="397.80" cy="515.70" rx="12.29" ry="21.41" transform="rotate(-12 397.80 515.70)"/><ellipse cx="397.30" cy="515.80" rx="12.29" ry="21.41" transform="rotate(-12 397.30 515.80)"/><ellipse cx="396.80" cy="515.91" rx="12.29" ry="21.41" transform="rotate(-12 396.80 515.91)"/><ellipse cx="396.30" cy="516.02" rx="12.29" ry="21.41" transform="rotate(-12 396.30 516.02)"/><ellipse cx="395.80" cy="516.13" rx="12.29" ry="21.41" transform="rotate(-12 395.80 516.13)"/><ellipse cx="395.30" cy="516.24" rx="12.29" ry="21.41" transform="rotate(-12 395.30 516.24)"/><ellipse cx="394.80" cy="516.35" rx="12.29" ry="21.41" transform="rotate(-12 394.80 516.35)"/><ellipse cx="394.30" cy="516.46" rx="12.29" ry="21.41" transform="rotate(-12 394.30 516.46)"/><ellipse cx="393.80" cy="516.57" rx="12.29" ry="21.41" transform="rotate(-12 393.80 516.57)"/><ellipse cx="393.30" cy="516.67" rx="12.29" ry="21.41" transform="rotate(-12 393.30 516.67)"/><ellipse cx="392.80" cy="516.78" rx="12.29" ry="21.41" transform="rotate(-12 392.80 516.78)"/><ellipse cx="392.30" cy="516.89" rx="12.29" ry="21.41" transform="rotate(-12 392.30 516.89)"/><ellipse cx="391.80" cy="517.00" rx="12.29" ry="21.41" transform="rotate(-12 391.80 517.00)"/></g>
<ellipse cx="391.80" cy="517.00" rx="13.13" ry="22.25" transform="rotate(-12 391.80 517.00)" fill="none" stroke="#111" stroke-width="1.6800000000000002" />
<ellipse cx="392.30" cy="517.00" rx="10.70" ry="19.40" transform="rotate(-12 392.30 517.00)" fill="#fff" stroke="#111" stroke-width="0.9" />
<circle cx="401.60" cy="517.00" r="1.5" fill="#fff" stroke="#333" stroke-width="0.8"/>
<circle cx="400.17" cy="526.08" r="1.5" fill="#fff" stroke="#333" stroke-width="0.8"/>
<circle cx="396.34" cy="532.28" r="1.5" fill="#fff" stroke="#333" stroke-width="0.8"/>
<circle cx="391.32" cy="533.63" r="1.5" fill="#fff" stroke="#333" stroke-width="0.8"/>
<circle cx="386.71" cy="529.70" r="1.5" fill="#fff" stroke="#333" stroke-width="0.8"/>
<circle cx="383.96" cy="521.73" r="1.5" fill="#fff" stroke="#333" stroke-width="0.8"/>
<circle cx="383.96" cy="512.27" r="1.5" fill="#fff" stroke="#333" stroke-width="0.8"/>
<circle cx="386.71" cy="504.30" r="1.5" fill="#fff" stroke="#333" stroke-width="0.8"/>
<circle cx="391.32" cy="500.37" r="1.5" fill="#fff" stroke="#333" stroke-width="0.8"/>
<circle cx="396.34" cy="501.72" r="1.5" fill="#fff" stroke="#333" stroke-width="0.8"/>
<circle cx="400.17" cy="507.92" r="1.5" fill="#fff" stroke="#333" stroke-width="0.8"/>
<ellipse cx="392.80" cy="517.00" rx="7.60" ry="14.20" transform="rotate(-12 392.80 517.00)" fill="#fff" stroke="#111" stroke-width="1.1" />
<ellipse cx="393.00" cy="517.00" rx="6.60" ry="12.00" transform="rotate(-12 393.00 517.00)" fill="#fff" stroke="#111" stroke-width="1.26" />
<text transform="translate(437.80,460.70) scale(0.86,1)" font-size="10" text-anchor="middle" fill="#111" stroke="#111" stroke-width="0.2">14</text>
<line x1="437.80" y1="465.00" x2="437.80" y2="479.30" stroke="#222" stroke-width="0.9" />
<path d="M428.7,479.3 C418,478 413,492 415.8,508 C418.5,524 430,536 441,533.8 C452,531.5 453.5,516 449,501 C446,491 440,484 433.7,482.3" fill="none" stroke="#111" stroke-width="1.5750000000000002" stroke-linejoin="round" stroke-linecap="round" />
<path d="M428.3,481.8 C420,482 416.5,494 419,508 C421.5,521 430.5,531 440,530.5 C449,529.5 450,515 446.5,502 C444,494 439,487.5 433.5,484.8" fill="none" stroke="#111" stroke-width="1.26" stroke-linejoin="round" stroke-linecap="round" />
<circle cx="428.3" cy="480.6" r="1.9" fill="#fff" stroke="#111" stroke-width="1.3"/>
<circle cx="433.7" cy="483.6" r="1.9" fill="#fff" stroke="#111" stroke-width="1.3"/>
<text transform="translate(424.2,607.8) scale(0.86,1)" font-size="10.5" letter-spacing="1.2" text-anchor="middle" fill="#111" stroke="#111" stroke-width="0.25">10684</text>
<g style="mix-blend-mode:multiply" font-weight="bold" font-size="48" fill="#dddddd" stroke="#cecece" stroke-width="4" stroke-linejoin="round" text-anchor="middle"><text transform="translate(252.1,342.2) scale(0.52,1)" fill="#dddddd">P</text><text transform="translate(273,342.2) scale(0.52,1)" fill="#dddddd">R</text><text transform="translate(294.4,342.2) scale(0.52,1)" fill="#dddddd">O</text><text transform="translate(314.4,342.2) scale(0.52,1)" fill="#dddddd">P</text><text transform="translate(334,342.2) scale(0.52,1)" fill="#dddddd">E</text><text transform="translate(354.6,342.2) scale(0.52,1)" fill="#dddddd">R</text><text transform="translate(374.2,342.2) scale(0.52,1)" fill="#dddddd">T</text><text transform="translate(393.8,342.2) scale(0.52,1)" fill="#dddddd">Y</text><text transform="translate(426.6,342.2) scale(0.52,1)" fill="#dddddd">O</text><text transform="translate(445,342.2) scale(0.52,1)" fill="#dddddd">F</text><text transform="translate(252.6,384.8) scale(0.52,1)" fill="#dddddd">V</text><text transform="translate(272.6,384.8) scale(0.52,1)" fill="#dddddd">O</text><text transform="translate(292.6,384.8) scale(0.52,1)" fill="#dddddd">L</text><text transform="translate(312.6,384.8) scale(0.52,1)" fill="#dddddd">V</text><text transform="translate(332.6,384.8) scale(0.52,1)" fill="#dddddd">O</text><text transform="translate(362.7,384.8) scale(0.52,1)" fill="#dddddd">P</text><text transform="translate(382.4,384.8) scale(0.52,1)" fill="#dddddd">E</text><text transform="translate(403.6,384.8) scale(0.52,1)" fill="#dddddd">N</text><text transform="translate(426.0,384.8) scale(0.52,1)" fill="#dddddd">T</text><text transform="translate(443.2,384.8) scale(0.52,1)" fill="#dddddd">A</text></g>
</svg></body></html>
